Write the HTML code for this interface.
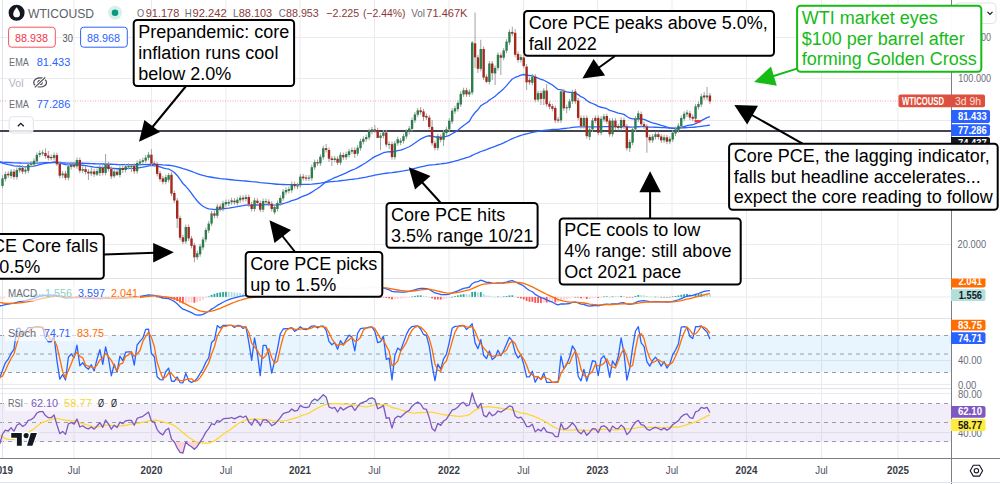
<!DOCTYPE html>
<html><head><meta charset="utf-8"><style>
html,body{margin:0;padding:0;background:#fff;width:1000px;height:484px;overflow:hidden}
svg{display:block;position:absolute;left:0;top:0}
text{font-family:"Liberation Sans", sans-serif}
</style></head><body>
<svg width="1000" height="484" viewBox="0 0 1000 484">
<defs>
<clipPath id="cp"><rect x="0" y="0" width="951" height="278"/></clipPath>
<clipPath id="cpm"><rect x="0" y="279" width="951" height="39"/></clipPath>
<clipPath id="cps"><rect x="0" y="319" width="951" height="69"/></clipPath>
<clipPath id="cpr"><rect x="0" y="389" width="951" height="69"/></clipPath>
</defs>
<line x1="2.5" y1="0" x2="2.5" y2="458" stroke="#ebebee" stroke-width="1"/>
<line x1="74" y1="0" x2="74" y2="458" stroke="#ebebee" stroke-width="1"/>
<line x1="151.5" y1="0" x2="151.5" y2="458" stroke="#ebebee" stroke-width="1"/>
<line x1="226" y1="0" x2="226" y2="458" stroke="#ebebee" stroke-width="1"/>
<line x1="300" y1="0" x2="300" y2="458" stroke="#ebebee" stroke-width="1"/>
<line x1="374.5" y1="0" x2="374.5" y2="458" stroke="#ebebee" stroke-width="1"/>
<line x1="449" y1="0" x2="449" y2="458" stroke="#ebebee" stroke-width="1"/>
<line x1="523.5" y1="0" x2="523.5" y2="458" stroke="#ebebee" stroke-width="1"/>
<line x1="597.5" y1="0" x2="597.5" y2="458" stroke="#ebebee" stroke-width="1"/>
<line x1="672" y1="0" x2="672" y2="458" stroke="#ebebee" stroke-width="1"/>
<line x1="746.5" y1="0" x2="746.5" y2="458" stroke="#ebebee" stroke-width="1"/>
<line x1="821.5" y1="0" x2="821.5" y2="458" stroke="#ebebee" stroke-width="1"/>
<line x1="898" y1="0" x2="898" y2="458" stroke="#ebebee" stroke-width="1"/>
<line x1="0" y1="37.5" x2="951" y2="37.5" stroke="#ebebee" stroke-width="1"/>
<line x1="0" y1="78.5" x2="951" y2="78.5" stroke="#ebebee" stroke-width="1"/>
<line x1="0" y1="120.5" x2="951" y2="120.5" stroke="#ebebee" stroke-width="1"/>
<line x1="0" y1="161.5" x2="951" y2="161.5" stroke="#ebebee" stroke-width="1"/>
<line x1="0" y1="203.5" x2="951" y2="203.5" stroke="#ebebee" stroke-width="1"/>
<line x1="0" y1="244.5" x2="951" y2="244.5" stroke="#ebebee" stroke-width="1"/>
<line x1="0" y1="297" x2="951" y2="297" stroke="#ebebee" stroke-width="1"/>
<line x1="0" y1="360.5" x2="951" y2="360.5" stroke="#ebebee" stroke-width="1"/>
<line x1="0" y1="384.5" x2="951" y2="384.5" stroke="#ebebee" stroke-width="1"/>
<line x1="0" y1="393.5" x2="951" y2="393.5" stroke="#ebebee" stroke-width="1"/>
<line x1="0" y1="432.5" x2="951" y2="432.5" stroke="#ebebee" stroke-width="1"/>
<rect x="0" y="335.21" width="951" height="36.78" fill="#2196f3" fill-opacity="0.1"/>
<rect x="0" y="403.85" width="951" height="38.1" fill="#7e57c2" fill-opacity="0.1"/>
<line x1="0" y1="335.5" x2="951" y2="335.5" stroke="#9a9da5" stroke-width="1" stroke-dasharray="4,4"/>
<line x1="0" y1="354" x2="951" y2="354" stroke="#9a9da5" stroke-width="1" stroke-dasharray="4,4"/>
<line x1="0" y1="372.5" x2="951" y2="372.5" stroke="#9a9da5" stroke-width="1" stroke-dasharray="4,4"/>
<line x1="0" y1="403.5" x2="951" y2="403.5" stroke="#9a9da5" stroke-width="1" stroke-dasharray="4,4"/>
<line x1="0" y1="422.5" x2="951" y2="422.5" stroke="#9a9da5" stroke-width="1" stroke-dasharray="4,4"/>
<line x1="0" y1="441.5" x2="951" y2="441.5" stroke="#9a9da5" stroke-width="1" stroke-dasharray="4,4"/>
<line x1="0" y1="278.5" x2="951" y2="278.5" stroke="#e0e3eb" stroke-width="1"/>
<line x1="0" y1="318.5" x2="951" y2="318.5" stroke="#e0e3eb" stroke-width="1"/>
<line x1="0" y1="388.5" x2="951" y2="388.5" stroke="#e0e3eb" stroke-width="1"/>
<line x1="2.5" y1="0" x2="2.5" y2="458" stroke="#e0e3eb" stroke-width="1"/>
<line x1="0" y1="458.5" x2="1000" y2="458.5" stroke="#7b7e86" stroke-width="1"/>
<line x1="951.5" y1="0" x2="951.5" y2="484" stroke="#7b7e86" stroke-width="1"/>
<line x1="0" y1="482.5" x2="1000" y2="482.5" stroke="#e0e3eb" stroke-width="1"/>
<line x1="0" y1="101" x2="898" y2="101" stroke="#f23645" stroke-opacity="0.45" stroke-width="1" stroke-dasharray="1,1.5"/>
<line x1="0" y1="131" x2="951" y2="131" stroke="#434651" stroke-width="2"/>
<g clip-path="url(#cp)">
<polyline points="-0.36,162.17 2.5,163.22 5.36,163.92 8.23,164.66 11.09,165.1 13.96,165.87 16.82,166.13 19.68,166.25 22.55,166.59 25.41,166.79 28.28,166.64 31.14,166.44 34,166.08 36.87,165.36 39.73,164.56 42.6,163.77 45.46,163.28 48.32,162.94 51.19,162.62 54.05,162.14 56.92,162.27 59.78,163.14 62.64,163.8 65.51,164.71 68.37,164.81 71.24,164.79 74.1,164.91 76.96,164.59 79.83,164.98 82.69,165.25 85.56,165.69 88.42,166.19 91.28,166.53 94.15,167.03 97.01,167.29 99.88,167.3 102.74,167.66 105.6,167.44 108.47,167.54 111.33,168.11 114.2,168.33 117.06,168.76 119.92,168.71 122.79,168.8 125.65,168.64 128.52,168.46 131.38,168.29 134.24,168.47 137.11,168.12 139.97,167.69 142.84,167.21 145.7,166.59 148.56,165.82 151.43,165.68 154.29,165.61 157.16,166.15 160.02,166.98 162.88,167.94 165.75,168.54 168.61,168.96 171.48,170.55 174.34,172.49 177.2,175.46 180.07,179.48 182.93,183.5 185.8,186.3 188.66,189.66 191.52,193.29 194.39,197.42 197.25,201.02 200.12,203.95 202.98,206.24 205.84,207.77 208.71,208.8 211.57,209.09 214.44,209.52 217.3,209.33 220.16,209.3 223.03,208.91 225.89,208.46 228.76,208.05 231.62,207.55 234.48,207.21 237.35,206.72 240.21,206.14 243.08,205.71 245.94,205.14 248.8,205.1 251.67,205.35 254.53,205.02 257.4,204.89 260.26,205.2 263.12,204.93 265.99,204.68 268.85,204.61 271.72,204.9 274.58,205.03 277.44,204.9 280.31,204.46 283.17,203.63 286.04,202.75 288.9,201.86 291.76,200.72 294.63,199.78 297.49,198.84 300.36,197.41 303.22,196.17 306.08,195.03 308.95,193.9 311.81,192.18 314.68,190.24 317.54,188.5 320.4,186.45 323.27,183.98 326.13,181.79 329,180.3 331.86,178.99 334.72,177.66 337.59,176.7 340.45,175.28 343.32,174.12 346.18,172.82 349.04,171.43 351.91,170.05 354.77,169.01 357.64,167.64 360.5,165.93 363.36,164.18 366.23,162.43 369.09,160.41 371.96,158.41 374.82,156.61 377.68,155.41 380.55,154.13 383.41,152.73 386.28,152.21 389.14,151.67 392,152.02 394.87,151.46 397.73,150.67 400.6,150.02 403.46,149.12 406.32,147.99 409.19,146.73 412.05,145.01 414.92,143.03 417.78,140.93 420.64,139.07 423.51,137.64 426.37,136.35 429.24,135.74 432.1,136.22 434.96,136.98 437.83,136.93 440.69,137.11 443.56,136.81 446.42,136.32 449.28,135.31 452.15,133.73 455.01,132.09 457.88,130.2 460.74,127.86 463.6,125.43 466.47,123.43 469.33,121.38 472.2,116.29 475.06,112.49 477.92,109.67 480.79,105.76 483.65,103.94 486.52,102.52 489.38,100 492.24,98.27 495.11,96.31 497.97,93.63 500.84,91.31 503.7,88.67 506.56,85.63 509.43,82.17 512.29,79.04 515.16,77.47 518.02,76.34 520.88,75.09 523.75,74.51 526.61,75.02 529.48,75.49 532.34,75.55 535.2,77.11 538.07,78.14 540.93,79.48 543.8,80.2 546.66,81.75 549.52,83.36 552.39,85 555.25,87.29 558.12,89.43 560.98,89.56 563.84,90.77 566.71,91.83 569.57,92.44 572.44,92.43 575.3,93.01 578.16,94.62 581.03,96.66 583.89,98.03 586.76,100.48 589.62,102.36 592.48,103.52 595.35,104.64 598.21,106.46 601.08,107.25 603.94,107.83 606.8,108.71 609.67,110.36 612.53,111.02 615.4,112.07 618.26,113.1 621.12,113.54 623.99,114.38 626.85,116.56 629.72,118.2 632.58,118.92 635.44,118.9 638.31,118.54 641.17,118.91 644.04,119.4 646.9,120.55 649.76,121.83 652.63,122.78 655.49,123.52 658.36,124.39 661.22,125.42 664.08,126.19 666.95,127.19 669.81,127.94 672.68,128.25 675.54,128.32 678.4,128.15 681.27,127.49 684.13,126.61 687,125.7 689.86,125.17 692.72,124.75 695.59,123.56 698.45,122.3 701.32,120.62 704.18,119.12 707.04,117.6 709.91,116.56" fill="none" stroke="#2962ff" stroke-width="1.3" stroke-linejoin="round" />
<polyline points="-0.36,161.96 2.5,162.18 5.36,162.33 8.23,162.51 11.09,162.63 13.96,162.82 16.82,162.91 19.68,162.98 22.55,163.09 25.41,163.18 28.28,163.2 31.14,163.2 34,163.17 36.87,163.06 39.73,162.93 42.6,162.79 45.46,162.7 48.32,162.64 51.19,162.57 54.05,162.48 56.92,162.5 59.78,162.67 62.64,162.82 65.51,163.01 68.37,163.06 71.24,163.08 74.1,163.12 76.96,163.08 79.83,163.18 82.69,163.26 85.56,163.38 88.42,163.51 91.28,163.62 94.15,163.76 97.01,163.85 99.88,163.9 102.74,164.02 105.6,164.02 108.47,164.09 111.33,164.25 114.2,164.35 117.06,164.49 119.92,164.54 122.79,164.61 125.65,164.63 128.52,164.65 131.38,164.66 134.24,164.75 137.11,164.73 139.97,164.68 142.84,164.63 145.7,164.53 148.56,164.4 151.43,164.39 154.29,164.39 157.16,164.52 160.02,164.71 162.88,164.94 165.75,165.1 168.61,165.24 171.48,165.61 174.34,166.07 177.2,166.77 180.07,167.71 182.93,168.69 185.8,169.46 188.66,170.38 191.52,171.38 194.39,172.51 197.25,173.58 200.12,174.55 202.98,175.41 205.84,176.13 208.71,176.76 211.57,177.24 214.44,177.75 217.3,178.14 220.16,178.54 223.03,178.87 225.89,179.18 228.76,179.48 231.62,179.75 234.48,180.05 237.35,180.31 240.21,180.54 243.08,180.79 245.94,181.01 248.8,181.32 251.67,181.68 254.53,181.93 257.4,182.21 260.26,182.57 263.12,182.82 265.99,183.06 268.85,183.33 271.72,183.67 274.58,183.98 277.44,184.23 280.31,184.42 283.17,184.51 286.04,184.58 288.9,184.64 291.76,184.64 294.63,184.66 297.49,184.66 300.36,184.56 303.22,184.47 306.08,184.39 308.95,184.3 311.81,184.08 314.68,183.78 317.54,183.51 320.4,183.16 323.27,182.7 326.13,182.26 329,181.95 331.86,181.66 334.72,181.35 337.59,181.11 340.45,180.76 343.32,180.45 346.18,180.09 349.04,179.71 351.91,179.32 354.77,178.98 357.64,178.57 360.5,178.08 363.36,177.56 366.23,177.02 369.09,176.41 371.96,175.79 374.82,175.19 377.68,174.69 380.55,174.18 383.41,173.62 386.28,173.24 389.14,172.85 392,172.64 394.87,172.25 397.73,171.82 400.6,171.4 403.46,170.94 406.32,170.41 409.19,169.86 412.05,169.2 414.92,168.47 417.78,167.7 420.64,166.97 423.51,166.31 426.37,165.66 429.24,165.15 432.1,164.86 434.96,164.63 437.83,164.26 440.69,163.93 443.56,163.51 446.42,163.06 449.28,162.5 452.15,161.81 455.01,161.1 457.88,160.33 460.74,159.45 463.6,158.54 466.47,157.69 469.33,156.81 472.2,155.3 475.06,154 477.92,152.87 480.79,151.5 483.65,150.52 486.52,149.61 489.38,148.47 492.24,147.47 495.11,146.42 497.97,145.2 500.84,144.04 503.7,142.8 506.56,141.46 509.43,140.01 512.29,138.6 515.16,137.49 518.02,136.47 520.88,135.41 523.75,134.5 526.61,133.8 529.48,133.12 532.34,132.37 535.2,131.94 538.07,131.42 540.93,130.99 543.8,130.46 546.66,130.11 549.52,129.8 552.39,129.52 555.25,129.4 558.12,129.29 560.98,128.78 563.84,128.51 566.71,128.23 569.57,127.87 572.44,127.4 575.3,127.06 578.16,126.94 581.03,126.93 583.89,126.81 586.76,126.93 589.62,126.97 592.48,126.88 595.35,126.8 598.21,126.88 601.08,126.77 603.94,126.63 606.8,126.56 609.67,126.67 612.53,126.58 615.4,126.59 618.26,126.61 621.12,126.53 623.99,126.52 626.85,126.81 629.72,127.01 632.58,127.04 635.44,126.93 638.31,126.75 641.17,126.72 644.04,126.72 646.9,126.86 649.76,127.04 652.63,127.16 655.49,127.25 658.36,127.38 661.22,127.56 664.08,127.68 666.95,127.87 669.81,128.02 672.68,128.08 675.54,128.09 678.4,128.06 681.27,127.93 684.13,127.74 687,127.54 689.86,127.41 692.72,127.29 695.59,127.01 698.45,126.71 701.32,126.31 704.18,125.92 707.04,125.52 709.91,125.2" fill="none" stroke="#2962ff" stroke-width="1.3" stroke-linejoin="round" />
</g>
<line x1="2.5" y1="175.3" x2="2.5" y2="188.4" stroke="#a0a0a0" stroke-width="1"/>
<line x1="5.36" y1="171.6" x2="5.36" y2="181.5" stroke="#a0a0a0" stroke-width="1"/>
<line x1="8.23" y1="171.2" x2="8.23" y2="177.8" stroke="#a0a0a0" stroke-width="1"/>
<line x1="11.09" y1="169.1" x2="11.09" y2="178.5" stroke="#a0a0a0" stroke-width="1"/>
<line x1="13.96" y1="169.1" x2="13.96" y2="179.4" stroke="#a0a0a0" stroke-width="1"/>
<line x1="16.82" y1="167.5" x2="16.82" y2="179.5" stroke="#a0a0a0" stroke-width="1"/>
<line x1="19.68" y1="165.4" x2="19.68" y2="172.9" stroke="#a0a0a0" stroke-width="1"/>
<line x1="22.55" y1="165.4" x2="22.55" y2="174.1" stroke="#a0a0a0" stroke-width="1"/>
<line x1="25.41" y1="167.2" x2="25.41" y2="174.1" stroke="#a0a0a0" stroke-width="1"/>
<line x1="28.28" y1="162" x2="28.28" y2="173.2" stroke="#a0a0a0" stroke-width="1"/>
<line x1="31.14" y1="161" x2="31.14" y2="167.3" stroke="#a0a0a0" stroke-width="1"/>
<line x1="34" y1="158.3" x2="34" y2="167" stroke="#a0a0a0" stroke-width="1"/>
<line x1="36.87" y1="152.4" x2="36.87" y2="163.8" stroke="#a0a0a0" stroke-width="1"/>
<line x1="39.73" y1="150.5" x2="39.73" y2="157.4" stroke="#a0a0a0" stroke-width="1"/>
<line x1="42.6" y1="149.9" x2="42.6" y2="155.9" stroke="#a0a0a0" stroke-width="1"/>
<line x1="45.46" y1="148.5" x2="45.46" y2="158.6" stroke="#a0a0a0" stroke-width="1"/>
<line x1="48.32" y1="151" x2="48.32" y2="160.5" stroke="#a0a0a0" stroke-width="1"/>
<line x1="51.19" y1="154.5" x2="51.19" y2="160.5" stroke="#a0a0a0" stroke-width="1"/>
<line x1="54.05" y1="152.6" x2="54.05" y2="160.5" stroke="#a0a0a0" stroke-width="1"/>
<line x1="56.92" y1="152.6" x2="56.92" y2="166" stroke="#a0a0a0" stroke-width="1"/>
<line x1="59.78" y1="161.3" x2="59.78" y2="178.2" stroke="#a0a0a0" stroke-width="1"/>
<line x1="62.64" y1="171" x2="62.64" y2="178" stroke="#a0a0a0" stroke-width="1"/>
<line x1="65.51" y1="171" x2="65.51" y2="180" stroke="#a0a0a0" stroke-width="1"/>
<line x1="68.37" y1="163.8" x2="68.37" y2="180.3" stroke="#a0a0a0" stroke-width="1"/>
<line x1="71.24" y1="162" x2="71.24" y2="169.5" stroke="#a0a0a0" stroke-width="1"/>
<line x1="74.1" y1="162" x2="74.1" y2="168" stroke="#a0a0a0" stroke-width="1"/>
<line x1="76.96" y1="157.5" x2="76.96" y2="168.8" stroke="#a0a0a0" stroke-width="1"/>
<line x1="79.83" y1="157.5" x2="79.83" y2="173.2" stroke="#a0a0a0" stroke-width="1"/>
<line x1="82.69" y1="166.6" x2="82.69" y2="173.2" stroke="#a0a0a0" stroke-width="1"/>
<line x1="85.56" y1="166" x2="85.56" y2="174.5" stroke="#a0a0a0" stroke-width="1"/>
<line x1="88.42" y1="169.1" x2="88.42" y2="180" stroke="#a0a0a0" stroke-width="1"/>
<line x1="91.28" y1="167" x2="91.28" y2="176.1" stroke="#a0a0a0" stroke-width="1"/>
<line x1="94.15" y1="169" x2="94.15" y2="176.8" stroke="#a0a0a0" stroke-width="1"/>
<line x1="97.01" y1="168.5" x2="97.01" y2="176" stroke="#a0a0a0" stroke-width="1"/>
<line x1="99.88" y1="164.9" x2="99.88" y2="176" stroke="#a0a0a0" stroke-width="1"/>
<line x1="102.74" y1="165.4" x2="102.74" y2="175.4" stroke="#a0a0a0" stroke-width="1"/>
<line x1="105.6" y1="154" x2="105.6" y2="175.4" stroke="#a0a0a0" stroke-width="1"/>
<line x1="108.47" y1="162" x2="108.47" y2="171.5" stroke="#a0a0a0" stroke-width="1"/>
<line x1="111.33" y1="166.4" x2="111.33" y2="179" stroke="#a0a0a0" stroke-width="1"/>
<line x1="114.2" y1="169" x2="114.2" y2="178" stroke="#a0a0a0" stroke-width="1"/>
<line x1="117.06" y1="169.3" x2="117.06" y2="176" stroke="#a0a0a0" stroke-width="1"/>
<line x1="119.92" y1="165.6" x2="119.92" y2="177.4" stroke="#a0a0a0" stroke-width="1"/>
<line x1="122.79" y1="165.6" x2="122.79" y2="173" stroke="#a0a0a0" stroke-width="1"/>
<line x1="125.65" y1="163.9" x2="125.65" y2="172.5" stroke="#a0a0a0" stroke-width="1"/>
<line x1="128.52" y1="163.3" x2="128.52" y2="169.6" stroke="#a0a0a0" stroke-width="1"/>
<line x1="131.38" y1="164.3" x2="131.38" y2="172" stroke="#a0a0a0" stroke-width="1"/>
<line x1="134.24" y1="163.3" x2="134.24" y2="173.7" stroke="#a0a0a0" stroke-width="1"/>
<line x1="137.11" y1="160.5" x2="137.11" y2="173.7" stroke="#a0a0a0" stroke-width="1"/>
<line x1="139.97" y1="159" x2="139.97" y2="166.1" stroke="#a0a0a0" stroke-width="1"/>
<line x1="142.84" y1="157.7" x2="142.84" y2="164.4" stroke="#a0a0a0" stroke-width="1"/>
<line x1="145.7" y1="155.1" x2="145.7" y2="163.2" stroke="#a0a0a0" stroke-width="1"/>
<line x1="148.56" y1="152" x2="148.56" y2="160.3" stroke="#a0a0a0" stroke-width="1"/>
<line x1="151.43" y1="149.1" x2="151.43" y2="166.1" stroke="#a0a0a0" stroke-width="1"/>
<line x1="154.29" y1="160.8" x2="154.29" y2="167.1" stroke="#a0a0a0" stroke-width="1"/>
<line x1="157.16" y1="162" x2="157.16" y2="176.4" stroke="#a0a0a0" stroke-width="1"/>
<line x1="160.02" y1="170.8" x2="160.02" y2="181.6" stroke="#a0a0a0" stroke-width="1"/>
<line x1="162.88" y1="175.9" x2="162.88" y2="184.4" stroke="#a0a0a0" stroke-width="1"/>
<line x1="165.75" y1="174.7" x2="165.75" y2="184.4" stroke="#a0a0a0" stroke-width="1"/>
<line x1="168.61" y1="173" x2="168.61" y2="182.3" stroke="#a0a0a0" stroke-width="1"/>
<line x1="171.48" y1="172.3" x2="171.48" y2="196.1" stroke="#a0a0a0" stroke-width="1"/>
<line x1="174.34" y1="190.5" x2="174.34" y2="203" stroke="#a0a0a0" stroke-width="1"/>
<line x1="177.2" y1="198" x2="177.2" y2="228" stroke="#a0a0a0" stroke-width="1"/>
<line x1="180.07" y1="215.5" x2="180.07" y2="240.2" stroke="#a0a0a0" stroke-width="1"/>
<line x1="182.93" y1="234.8" x2="182.93" y2="244" stroke="#a0a0a0" stroke-width="1"/>
<line x1="185.8" y1="224.5" x2="185.8" y2="243.9" stroke="#a0a0a0" stroke-width="1"/>
<line x1="188.66" y1="224.5" x2="188.66" y2="240.9" stroke="#a0a0a0" stroke-width="1"/>
<line x1="191.52" y1="235.9" x2="191.52" y2="248.4" stroke="#a0a0a0" stroke-width="1"/>
<line x1="194.39" y1="242.7" x2="194.39" y2="262.3" stroke="#a0a0a0" stroke-width="1"/>
<line x1="197.25" y1="250.7" x2="197.25" y2="260" stroke="#a0a0a0" stroke-width="1"/>
<line x1="200.12" y1="243.9" x2="200.12" y2="256.8" stroke="#a0a0a0" stroke-width="1"/>
<line x1="202.98" y1="237" x2="202.98" y2="250" stroke="#a0a0a0" stroke-width="1"/>
<line x1="205.84" y1="227.5" x2="205.84" y2="242" stroke="#a0a0a0" stroke-width="1"/>
<line x1="208.71" y1="221.1" x2="208.71" y2="233" stroke="#a0a0a0" stroke-width="1"/>
<line x1="211.57" y1="210.9" x2="211.57" y2="226.1" stroke="#a0a0a0" stroke-width="1"/>
<line x1="214.44" y1="210.9" x2="214.44" y2="218.2" stroke="#a0a0a0" stroke-width="1"/>
<line x1="217.3" y1="204.1" x2="217.3" y2="218.2" stroke="#a0a0a0" stroke-width="1"/>
<line x1="220.16" y1="204.1" x2="220.16" y2="211.4" stroke="#a0a0a0" stroke-width="1"/>
<line x1="223.03" y1="200.7" x2="223.03" y2="211.4" stroke="#a0a0a0" stroke-width="1"/>
<line x1="225.89" y1="199.5" x2="225.89" y2="206.8" stroke="#a0a0a0" stroke-width="1"/>
<line x1="228.76" y1="199.5" x2="228.76" y2="206.1" stroke="#a0a0a0" stroke-width="1"/>
<line x1="231.62" y1="197.8" x2="231.62" y2="204.8" stroke="#a0a0a0" stroke-width="1"/>
<line x1="234.48" y1="198.2" x2="234.48" y2="204.8" stroke="#a0a0a0" stroke-width="1"/>
<line x1="237.35" y1="197.2" x2="237.35" y2="205.5" stroke="#a0a0a0" stroke-width="1"/>
<line x1="240.21" y1="195.2" x2="240.21" y2="202.8" stroke="#a0a0a0" stroke-width="1"/>
<line x1="243.08" y1="195.2" x2="243.08" y2="201.9" stroke="#a0a0a0" stroke-width="1"/>
<line x1="245.94" y1="194.5" x2="245.94" y2="201.5" stroke="#a0a0a0" stroke-width="1"/>
<line x1="248.8" y1="194.5" x2="248.8" y2="206.9" stroke="#a0a0a0" stroke-width="1"/>
<line x1="251.67" y1="201.9" x2="251.67" y2="211.5" stroke="#a0a0a0" stroke-width="1"/>
<line x1="254.53" y1="197.8" x2="254.53" y2="211.5" stroke="#a0a0a0" stroke-width="1"/>
<line x1="257.4" y1="198.2" x2="257.4" y2="205.5" stroke="#a0a0a0" stroke-width="1"/>
<line x1="260.26" y1="200.5" x2="260.26" y2="212.2" stroke="#a0a0a0" stroke-width="1"/>
<line x1="263.12" y1="198.5" x2="263.12" y2="212.2" stroke="#a0a0a0" stroke-width="1"/>
<line x1="265.99" y1="198.5" x2="265.99" y2="204.8" stroke="#a0a0a0" stroke-width="1"/>
<line x1="268.85" y1="199.2" x2="268.85" y2="206.2" stroke="#a0a0a0" stroke-width="1"/>
<line x1="271.72" y1="201.2" x2="271.72" y2="211.5" stroke="#a0a0a0" stroke-width="1"/>
<line x1="274.58" y1="204.5" x2="274.58" y2="214.4" stroke="#a0a0a0" stroke-width="1"/>
<line x1="277.44" y1="200.5" x2="277.44" y2="211.5" stroke="#a0a0a0" stroke-width="1"/>
<line x1="280.31" y1="195.5" x2="280.31" y2="205.9" stroke="#a0a0a0" stroke-width="1"/>
<line x1="283.17" y1="189.1" x2="283.17" y2="200.8" stroke="#a0a0a0" stroke-width="1"/>
<line x1="286.04" y1="187.5" x2="286.04" y2="194.8" stroke="#a0a0a0" stroke-width="1"/>
<line x1="288.9" y1="186.5" x2="288.9" y2="193.5" stroke="#a0a0a0" stroke-width="1"/>
<line x1="291.76" y1="181.7" x2="291.76" y2="192.8" stroke="#a0a0a0" stroke-width="1"/>
<line x1="294.63" y1="181.7" x2="294.63" y2="188.7" stroke="#a0a0a0" stroke-width="1"/>
<line x1="297.49" y1="182.7" x2="297.49" y2="189" stroke="#a0a0a0" stroke-width="1"/>
<line x1="300.36" y1="174.1" x2="300.36" y2="187.7" stroke="#a0a0a0" stroke-width="1"/>
<line x1="303.22" y1="174.1" x2="303.22" y2="180.7" stroke="#a0a0a0" stroke-width="1"/>
<line x1="306.08" y1="175" x2="306.08" y2="181" stroke="#a0a0a0" stroke-width="1"/>
<line x1="308.95" y1="175" x2="308.95" y2="181" stroke="#a0a0a0" stroke-width="1"/>
<line x1="311.81" y1="164.7" x2="311.81" y2="180.7" stroke="#a0a0a0" stroke-width="1"/>
<line x1="314.68" y1="159.6" x2="314.68" y2="169.9" stroke="#a0a0a0" stroke-width="1"/>
<line x1="317.54" y1="159.6" x2="317.54" y2="165.9" stroke="#a0a0a0" stroke-width="1"/>
<line x1="320.4" y1="154.2" x2="320.4" y2="165.9" stroke="#a0a0a0" stroke-width="1"/>
<line x1="323.27" y1="145.7" x2="323.27" y2="159.8" stroke="#a0a0a0" stroke-width="1"/>
<line x1="326.13" y1="144" x2="326.13" y2="152.5" stroke="#a0a0a0" stroke-width="1"/>
<line x1="329" y1="147.5" x2="329" y2="162" stroke="#a0a0a0" stroke-width="1"/>
<line x1="331.86" y1="155.9" x2="331.86" y2="166" stroke="#a0a0a0" stroke-width="1"/>
<line x1="334.72" y1="155.9" x2="334.72" y2="162.5" stroke="#a0a0a0" stroke-width="1"/>
<line x1="337.59" y1="156.2" x2="337.59" y2="165" stroke="#a0a0a0" stroke-width="1"/>
<line x1="340.45" y1="152.2" x2="340.45" y2="165.2" stroke="#a0a0a0" stroke-width="1"/>
<line x1="343.32" y1="152.5" x2="343.32" y2="159.8" stroke="#a0a0a0" stroke-width="1"/>
<line x1="346.18" y1="151.5" x2="346.18" y2="159.8" stroke="#a0a0a0" stroke-width="1"/>
<line x1="349.04" y1="148.8" x2="349.04" y2="157.5" stroke="#a0a0a0" stroke-width="1"/>
<line x1="351.91" y1="147.5" x2="351.91" y2="154.2" stroke="#a0a0a0" stroke-width="1"/>
<line x1="354.77" y1="147.5" x2="354.77" y2="158" stroke="#a0a0a0" stroke-width="1"/>
<line x1="357.64" y1="145.2" x2="357.64" y2="156.1" stroke="#a0a0a0" stroke-width="1"/>
<line x1="360.5" y1="138.7" x2="360.5" y2="150.7" stroke="#a0a0a0" stroke-width="1"/>
<line x1="363.36" y1="136.3" x2="363.36" y2="144.4" stroke="#a0a0a0" stroke-width="1"/>
<line x1="366.23" y1="134.5" x2="366.23" y2="141.7" stroke="#a0a0a0" stroke-width="1"/>
<line x1="369.09" y1="128.7" x2="369.09" y2="140" stroke="#a0a0a0" stroke-width="1"/>
<line x1="371.96" y1="126.9" x2="371.96" y2="134.3" stroke="#a0a0a0" stroke-width="1"/>
<line x1="374.82" y1="125" x2="374.82" y2="133" stroke="#a0a0a0" stroke-width="1"/>
<line x1="377.68" y1="127.7" x2="377.68" y2="138" stroke="#a0a0a0" stroke-width="1"/>
<line x1="380.55" y1="133.1" x2="380.55" y2="150" stroke="#a0a0a0" stroke-width="1"/>
<line x1="383.41" y1="130" x2="383.41" y2="138.4" stroke="#a0a0a0" stroke-width="1"/>
<line x1="386.28" y1="130" x2="386.28" y2="147.1" stroke="#a0a0a0" stroke-width="1"/>
<line x1="389.14" y1="141.4" x2="389.14" y2="149" stroke="#a0a0a0" stroke-width="1"/>
<line x1="392" y1="141.7" x2="392" y2="159.6" stroke="#a0a0a0" stroke-width="1"/>
<line x1="394.87" y1="140.8" x2="394.87" y2="159.6" stroke="#a0a0a0" stroke-width="1"/>
<line x1="397.73" y1="136.7" x2="397.73" y2="145.8" stroke="#a0a0a0" stroke-width="1"/>
<line x1="400.6" y1="138.1" x2="400.6" y2="145.1" stroke="#a0a0a0" stroke-width="1"/>
<line x1="403.46" y1="133.6" x2="403.46" y2="143.5" stroke="#a0a0a0" stroke-width="1"/>
<line x1="406.32" y1="129.1" x2="406.32" y2="139" stroke="#a0a0a0" stroke-width="1"/>
<line x1="409.19" y1="126" x2="409.19" y2="134.3" stroke="#a0a0a0" stroke-width="1"/>
<line x1="412.05" y1="117.5" x2="412.05" y2="131.4" stroke="#a0a0a0" stroke-width="1"/>
<line x1="414.92" y1="111.9" x2="414.92" y2="122.9" stroke="#a0a0a0" stroke-width="1"/>
<line x1="417.78" y1="107.9" x2="417.78" y2="117.2" stroke="#a0a0a0" stroke-width="1"/>
<line x1="420.64" y1="107" x2="420.64" y2="114.7" stroke="#a0a0a0" stroke-width="1"/>
<line x1="423.51" y1="108.9" x2="423.51" y2="121" stroke="#a0a0a0" stroke-width="1"/>
<line x1="426.37" y1="113.5" x2="426.37" y2="120.1" stroke="#a0a0a0" stroke-width="1"/>
<line x1="429.24" y1="115.1" x2="429.24" y2="129.4" stroke="#a0a0a0" stroke-width="1"/>
<line x1="432.1" y1="120" x2="432.1" y2="145.7" stroke="#a0a0a0" stroke-width="1"/>
<line x1="434.96" y1="140.7" x2="434.96" y2="150.4" stroke="#a0a0a0" stroke-width="1"/>
<line x1="437.83" y1="133.7" x2="437.83" y2="150.4" stroke="#a0a0a0" stroke-width="1"/>
<line x1="440.69" y1="134.5" x2="440.69" y2="142.3" stroke="#a0a0a0" stroke-width="1"/>
<line x1="443.56" y1="129.9" x2="443.56" y2="146" stroke="#a0a0a0" stroke-width="1"/>
<line x1="446.42" y1="126.8" x2="446.42" y2="135.6" stroke="#a0a0a0" stroke-width="1"/>
<line x1="449.28" y1="118.2" x2="449.28" y2="131.8" stroke="#a0a0a0" stroke-width="1"/>
<line x1="452.15" y1="108.2" x2="452.15" y2="124" stroke="#a0a0a0" stroke-width="1"/>
<line x1="455.01" y1="105.8" x2="455.01" y2="113.9" stroke="#a0a0a0" stroke-width="1"/>
<line x1="457.88" y1="100.4" x2="457.88" y2="111.6" stroke="#a0a0a0" stroke-width="1"/>
<line x1="460.74" y1="91.4" x2="460.74" y2="107" stroke="#a0a0a0" stroke-width="1"/>
<line x1="463.6" y1="87.7" x2="463.6" y2="96.9" stroke="#a0a0a0" stroke-width="1"/>
<line x1="466.47" y1="87.7" x2="466.47" y2="96.9" stroke="#a0a0a0" stroke-width="1"/>
<line x1="469.33" y1="89.2" x2="469.33" y2="96.9" stroke="#a0a0a0" stroke-width="1"/>
<line x1="472.2" y1="41" x2="472.2" y2="95" stroke="#a0a0a0" stroke-width="1"/>
<line x1="475.06" y1="12.6" x2="475.06" y2="67.9" stroke="#a0a0a0" stroke-width="1"/>
<line x1="477.92" y1="54.9" x2="477.92" y2="73" stroke="#a0a0a0" stroke-width="1"/>
<line x1="480.79" y1="39.8" x2="480.79" y2="71.3" stroke="#a0a0a0" stroke-width="1"/>
<line x1="483.65" y1="46.5" x2="483.65" y2="80" stroke="#a0a0a0" stroke-width="1"/>
<line x1="486.52" y1="74.2" x2="486.52" y2="83" stroke="#a0a0a0" stroke-width="1"/>
<line x1="489.38" y1="61" x2="489.38" y2="84.4" stroke="#a0a0a0" stroke-width="1"/>
<line x1="492.24" y1="61" x2="492.24" y2="80" stroke="#a0a0a0" stroke-width="1"/>
<line x1="495.11" y1="65.4" x2="495.11" y2="85" stroke="#a0a0a0" stroke-width="1"/>
<line x1="497.97" y1="52.2" x2="497.97" y2="70.4" stroke="#a0a0a0" stroke-width="1"/>
<line x1="500.84" y1="52.8" x2="500.84" y2="75" stroke="#a0a0a0" stroke-width="1"/>
<line x1="503.7" y1="47.9" x2="503.7" y2="60.2" stroke="#a0a0a0" stroke-width="1"/>
<line x1="506.56" y1="39.1" x2="506.56" y2="53.2" stroke="#a0a0a0" stroke-width="1"/>
<line x1="509.43" y1="29.4" x2="509.43" y2="45" stroke="#a0a0a0" stroke-width="1"/>
<line x1="512.29" y1="26.7" x2="512.29" y2="36.2" stroke="#a0a0a0" stroke-width="1"/>
<line x1="515.16" y1="29" x2="515.16" y2="57.2" stroke="#a0a0a0" stroke-width="1"/>
<line x1="518.02" y1="51.4" x2="518.02" y2="62.5" stroke="#a0a0a0" stroke-width="1"/>
<line x1="520.88" y1="54.5" x2="520.88" y2="62.5" stroke="#a0a0a0" stroke-width="1"/>
<line x1="523.75" y1="54.9" x2="523.75" y2="68.6" stroke="#a0a0a0" stroke-width="1"/>
<line x1="526.61" y1="64.1" x2="526.61" y2="90" stroke="#a0a0a0" stroke-width="1"/>
<line x1="529.48" y1="77.4" x2="529.48" y2="84.8" stroke="#a0a0a0" stroke-width="1"/>
<line x1="532.34" y1="74" x2="532.34" y2="85.3" stroke="#a0a0a0" stroke-width="1"/>
<line x1="535.2" y1="74" x2="535.2" y2="102.2" stroke="#a0a0a0" stroke-width="1"/>
<line x1="538.07" y1="90.6" x2="538.07" y2="102.2" stroke="#a0a0a0" stroke-width="1"/>
<line x1="540.93" y1="90.6" x2="540.93" y2="105" stroke="#a0a0a0" stroke-width="1"/>
<line x1="543.8" y1="88.1" x2="543.8" y2="105" stroke="#a0a0a0" stroke-width="1"/>
<line x1="546.66" y1="84" x2="546.66" y2="106.8" stroke="#a0a0a0" stroke-width="1"/>
<line x1="549.52" y1="101.3" x2="549.52" y2="109.2" stroke="#a0a0a0" stroke-width="1"/>
<line x1="552.39" y1="103.8" x2="552.39" y2="111.3" stroke="#a0a0a0" stroke-width="1"/>
<line x1="555.25" y1="105.5" x2="555.25" y2="123" stroke="#a0a0a0" stroke-width="1"/>
<line x1="558.12" y1="117" x2="558.12" y2="123" stroke="#a0a0a0" stroke-width="1"/>
<line x1="560.98" y1="88.9" x2="560.98" y2="122.9" stroke="#a0a0a0" stroke-width="1"/>
<line x1="563.84" y1="88.9" x2="563.84" y2="110.8" stroke="#a0a0a0" stroke-width="1"/>
<line x1="566.71" y1="104.7" x2="566.71" y2="113" stroke="#a0a0a0" stroke-width="1"/>
<line x1="569.57" y1="98.9" x2="569.57" y2="110.5" stroke="#a0a0a0" stroke-width="1"/>
<line x1="572.44" y1="89.8" x2="572.44" y2="103.9" stroke="#a0a0a0" stroke-width="1"/>
<line x1="575.3" y1="88.9" x2="575.3" y2="103.9" stroke="#a0a0a0" stroke-width="1"/>
<line x1="578.16" y1="98" x2="578.16" y2="120.4" stroke="#a0a0a0" stroke-width="1"/>
<line x1="581.03" y1="115.4" x2="581.03" y2="128.7" stroke="#a0a0a0" stroke-width="1"/>
<line x1="583.89" y1="115.4" x2="583.89" y2="128.7" stroke="#a0a0a0" stroke-width="1"/>
<line x1="586.76" y1="115.4" x2="586.76" y2="138.6" stroke="#a0a0a0" stroke-width="1"/>
<line x1="589.62" y1="127" x2="589.62" y2="140" stroke="#a0a0a0" stroke-width="1"/>
<line x1="592.48" y1="117.9" x2="592.48" y2="132" stroke="#a0a0a0" stroke-width="1"/>
<line x1="595.35" y1="115.4" x2="595.35" y2="123.4" stroke="#a0a0a0" stroke-width="1"/>
<line x1="598.21" y1="115.4" x2="598.21" y2="135.3" stroke="#a0a0a0" stroke-width="1"/>
<line x1="601.08" y1="116.2" x2="601.08" y2="135.3" stroke="#a0a0a0" stroke-width="1"/>
<line x1="603.94" y1="113.8" x2="603.94" y2="122.1" stroke="#a0a0a0" stroke-width="1"/>
<line x1="606.8" y1="113.5" x2="606.8" y2="124" stroke="#a0a0a0" stroke-width="1"/>
<line x1="609.67" y1="118.1" x2="609.67" y2="136.7" stroke="#a0a0a0" stroke-width="1"/>
<line x1="612.53" y1="118.1" x2="612.53" y2="136.7" stroke="#a0a0a0" stroke-width="1"/>
<line x1="615.4" y1="118.1" x2="615.4" y2="129.8" stroke="#a0a0a0" stroke-width="1"/>
<line x1="618.26" y1="123.7" x2="618.26" y2="130.5" stroke="#a0a0a0" stroke-width="1"/>
<line x1="621.12" y1="117.5" x2="621.12" y2="130.5" stroke="#a0a0a0" stroke-width="1"/>
<line x1="623.99" y1="117.5" x2="623.99" y2="129" stroke="#a0a0a0" stroke-width="1"/>
<line x1="626.85" y1="124" x2="626.85" y2="150.7" stroke="#a0a0a0" stroke-width="1"/>
<line x1="629.72" y1="139.5" x2="629.72" y2="152" stroke="#a0a0a0" stroke-width="1"/>
<line x1="632.58" y1="126.8" x2="632.58" y2="145.2" stroke="#a0a0a0" stroke-width="1"/>
<line x1="635.44" y1="116.2" x2="635.44" y2="131.8" stroke="#a0a0a0" stroke-width="1"/>
<line x1="638.31" y1="110.8" x2="638.31" y2="122" stroke="#a0a0a0" stroke-width="1"/>
<line x1="641.17" y1="111.6" x2="641.17" y2="126.7" stroke="#a0a0a0" stroke-width="1"/>
<line x1="644.04" y1="121.7" x2="644.04" y2="129" stroke="#a0a0a0" stroke-width="1"/>
<line x1="646.9" y1="124" x2="646.9" y2="152.8" stroke="#a0a0a0" stroke-width="1"/>
<line x1="649.76" y1="134.5" x2="649.76" y2="142.9" stroke="#a0a0a0" stroke-width="1"/>
<line x1="652.63" y1="134" x2="652.63" y2="142.9" stroke="#a0a0a0" stroke-width="1"/>
<line x1="655.49" y1="131.7" x2="655.49" y2="139.5" stroke="#a0a0a0" stroke-width="1"/>
<line x1="658.36" y1="131.7" x2="658.36" y2="139.5" stroke="#a0a0a0" stroke-width="1"/>
<line x1="661.22" y1="134" x2="661.22" y2="142.9" stroke="#a0a0a0" stroke-width="1"/>
<line x1="664.08" y1="134.8" x2="664.08" y2="142.9" stroke="#a0a0a0" stroke-width="1"/>
<line x1="666.95" y1="134.8" x2="666.95" y2="144.2" stroke="#a0a0a0" stroke-width="1"/>
<line x1="669.81" y1="136.4" x2="669.81" y2="144.2" stroke="#a0a0a0" stroke-width="1"/>
<line x1="672.68" y1="130.2" x2="672.68" y2="142.1" stroke="#a0a0a0" stroke-width="1"/>
<line x1="675.54" y1="126.8" x2="675.54" y2="136" stroke="#a0a0a0" stroke-width="1"/>
<line x1="678.4" y1="123.2" x2="678.4" y2="132.9" stroke="#a0a0a0" stroke-width="1"/>
<line x1="681.27" y1="115.5" x2="681.27" y2="129" stroke="#a0a0a0" stroke-width="1"/>
<line x1="684.13" y1="111.3" x2="684.13" y2="121.2" stroke="#a0a0a0" stroke-width="1"/>
<line x1="687" y1="110" x2="687" y2="116.9" stroke="#a0a0a0" stroke-width="1"/>
<line x1="689.86" y1="110.8" x2="689.86" y2="120" stroke="#a0a0a0" stroke-width="1"/>
<line x1="692.72" y1="114.4" x2="692.72" y2="121.2" stroke="#a0a0a0" stroke-width="1"/>
<line x1="695.59" y1="103.8" x2="695.59" y2="121.2" stroke="#a0a0a0" stroke-width="1"/>
<line x1="698.45" y1="101.5" x2="698.45" y2="109.6" stroke="#a0a0a0" stroke-width="1"/>
<line x1="701.32" y1="93.8" x2="701.32" y2="107" stroke="#a0a0a0" stroke-width="1"/>
<line x1="704.18" y1="92" x2="704.18" y2="99.9" stroke="#a0a0a0" stroke-width="1"/>
<line x1="707.04" y1="87" x2="707.04" y2="99.9" stroke="#a0a0a0" stroke-width="1"/>
<line x1="709.91" y1="93" x2="709.91" y2="103.9" stroke="#a0a0a0" stroke-width="1"/>
<rect x="1.3" y="178.4" width="2.4" height="7.5" fill="#2e7d4f"/>
<rect x="4.16" y="174.1" width="2.4" height="4.9" fill="#2e7d4f"/>
<rect x="7.03" y="173.7" width="2.4" height="1.6" fill="#a3291f"/>
<rect x="9.89" y="171.6" width="2.4" height="4.4" fill="#2e7d4f"/>
<rect x="12.76" y="171.6" width="2.4" height="5.3" fill="#a3291f"/>
<rect x="15.62" y="170" width="2.4" height="7" fill="#2e7d4f"/>
<rect x="18.48" y="167.9" width="2.4" height="2.5" fill="#2e7d4f"/>
<rect x="21.35" y="167.9" width="2.4" height="3.7" fill="#a3291f"/>
<rect x="24.21" y="169.7" width="2.4" height="1.9" fill="#2e7d4f"/>
<rect x="27.08" y="164.5" width="2.4" height="6.2" fill="#2e7d4f"/>
<rect x="29.94" y="163.5" width="2.4" height="1.3" fill="#2e7d4f"/>
<rect x="32.8" y="160.8" width="2.4" height="3.7" fill="#2e7d4f"/>
<rect x="35.67" y="154.9" width="2.4" height="6.4" fill="#2e7d4f"/>
<rect x="38.53" y="153" width="2.4" height="1.9" fill="#2e7d4f"/>
<rect x="41.4" y="152.4" width="2.4" height="1.2" fill="#2e7d4f"/>
<rect x="44.26" y="153" width="2.4" height="3.1" fill="#a3291f"/>
<rect x="47.12" y="155.5" width="2.4" height="2.5" fill="#a3291f"/>
<rect x="49.99" y="157" width="2.4" height="1.2" fill="#a3291f"/>
<rect x="52.85" y="155.1" width="2.4" height="2.9" fill="#2e7d4f"/>
<rect x="55.72" y="155.1" width="2.4" height="9.1" fill="#a3291f"/>
<rect x="58.58" y="163.8" width="2.4" height="11.9" fill="#a3291f"/>
<rect x="61.44" y="173.5" width="2.4" height="1.8" fill="#2e7d4f"/>
<rect x="64.31" y="173.5" width="2.4" height="4.3" fill="#a3291f"/>
<rect x="67.17" y="166.3" width="2.4" height="11.5" fill="#2e7d4f"/>
<rect x="70.04" y="164.5" width="2.4" height="2.5" fill="#2e7d4f"/>
<rect x="72.9" y="164.8" width="2.4" height="1.8" fill="#a3291f"/>
<rect x="75.76" y="160" width="2.4" height="6.3" fill="#2e7d4f"/>
<rect x="78.63" y="160" width="2.4" height="10.7" fill="#a3291f"/>
<rect x="81.49" y="169.1" width="2.4" height="1.6" fill="#2e7d4f"/>
<rect x="84.36" y="169.1" width="2.4" height="2.9" fill="#a3291f"/>
<rect x="87.22" y="171.6" width="2.4" height="1.9" fill="#a3291f"/>
<rect x="90.08" y="171.5" width="2.4" height="2.1" fill="#2e7d4f"/>
<rect x="92.95" y="171.5" width="2.4" height="2.8" fill="#a3291f"/>
<rect x="95.81" y="171" width="2.4" height="3.6" fill="#2e7d4f"/>
<rect x="98.68" y="167.4" width="2.4" height="5.7" fill="#2e7d4f"/>
<rect x="101.54" y="167.9" width="2.4" height="5" fill="#a3291f"/>
<rect x="104.4" y="164.3" width="2.4" height="8.6" fill="#2e7d4f"/>
<rect x="107.27" y="164.6" width="2.4" height="4.4" fill="#a3291f"/>
<rect x="110.13" y="168.9" width="2.4" height="7.5" fill="#a3291f"/>
<rect x="113" y="171.5" width="2.4" height="4.7" fill="#2e7d4f"/>
<rect x="115.86" y="171.8" width="2.4" height="3.1" fill="#a3291f"/>
<rect x="118.72" y="168.1" width="2.4" height="6.8" fill="#2e7d4f"/>
<rect x="121.59" y="168.1" width="2.4" height="1.9" fill="#a3291f"/>
<rect x="124.45" y="166.4" width="2.4" height="3.6" fill="#2e7d4f"/>
<rect x="127.32" y="165.8" width="2.4" height="1.3" fill="#2e7d4f"/>
<rect x="130.18" y="165.8" width="2.4" height="1.2" fill="#2e7d4f"/>
<rect x="133.04" y="165.8" width="2.4" height="5.4" fill="#a3291f"/>
<rect x="135.91" y="163" width="2.4" height="8.2" fill="#2e7d4f"/>
<rect x="138.77" y="161.5" width="2.4" height="2.1" fill="#2e7d4f"/>
<rect x="141.64" y="160.2" width="2.4" height="1.7" fill="#2e7d4f"/>
<rect x="144.5" y="157.6" width="2.4" height="3.1" fill="#2e7d4f"/>
<rect x="147.36" y="154.7" width="2.4" height="3.1" fill="#2e7d4f"/>
<rect x="150.23" y="154.7" width="2.4" height="8.9" fill="#a3291f"/>
<rect x="153.09" y="163.3" width="2.4" height="1.3" fill="#a3291f"/>
<rect x="155.96" y="164" width="2.4" height="9.9" fill="#a3291f"/>
<rect x="158.82" y="173.3" width="2.4" height="5.8" fill="#a3291f"/>
<rect x="161.68" y="178.4" width="2.4" height="3.5" fill="#a3291f"/>
<rect x="164.55" y="177.2" width="2.4" height="4.7" fill="#2e7d4f"/>
<rect x="167.41" y="175.1" width="2.4" height="4.7" fill="#2e7d4f"/>
<rect x="170.28" y="174.8" width="2.4" height="18.8" fill="#a3291f"/>
<rect x="173.14" y="193" width="2.4" height="7.5" fill="#a3291f"/>
<rect x="176" y="200.5" width="2.4" height="18.1" fill="#a3291f"/>
<rect x="178.87" y="218" width="2.4" height="19.7" fill="#a3291f"/>
<rect x="181.73" y="237.3" width="2.4" height="4.5" fill="#a3291f"/>
<rect x="184.6" y="227" width="2.4" height="14.4" fill="#2e7d4f"/>
<rect x="187.46" y="227" width="2.4" height="11.4" fill="#a3291f"/>
<rect x="190.32" y="238.4" width="2.4" height="7.5" fill="#a3291f"/>
<rect x="193.19" y="245.2" width="2.4" height="12.1" fill="#a3291f"/>
<rect x="196.05" y="253.2" width="2.4" height="4.1" fill="#2e7d4f"/>
<rect x="198.92" y="246.4" width="2.4" height="7.9" fill="#2e7d4f"/>
<rect x="201.78" y="239.5" width="2.4" height="8" fill="#2e7d4f"/>
<rect x="204.64" y="230" width="2.4" height="9.5" fill="#2e7d4f"/>
<rect x="207.51" y="223.6" width="2.4" height="6.9" fill="#2e7d4f"/>
<rect x="210.37" y="213.4" width="2.4" height="10.2" fill="#2e7d4f"/>
<rect x="213.24" y="213.4" width="2.4" height="2.3" fill="#a3291f"/>
<rect x="216.1" y="206.6" width="2.4" height="9.1" fill="#2e7d4f"/>
<rect x="218.96" y="206.6" width="2.4" height="2.3" fill="#a3291f"/>
<rect x="221.83" y="203.2" width="2.4" height="5.7" fill="#2e7d4f"/>
<rect x="224.69" y="202" width="2.4" height="2.3" fill="#2e7d4f"/>
<rect x="227.56" y="202" width="2.4" height="1.6" fill="#2e7d4f"/>
<rect x="230.42" y="200.3" width="2.4" height="2" fill="#2e7d4f"/>
<rect x="233.28" y="200.7" width="2.4" height="1.6" fill="#a3291f"/>
<rect x="236.15" y="199.7" width="2.4" height="3.3" fill="#2e7d4f"/>
<rect x="239.01" y="197.7" width="2.4" height="2.6" fill="#2e7d4f"/>
<rect x="241.88" y="197.7" width="2.4" height="1.7" fill="#a3291f"/>
<rect x="244.74" y="197" width="2.4" height="2" fill="#2e7d4f"/>
<rect x="247.6" y="197" width="2.4" height="7.4" fill="#a3291f"/>
<rect x="250.47" y="204.4" width="2.4" height="4.6" fill="#a3291f"/>
<rect x="253.33" y="200.3" width="2.4" height="8.7" fill="#2e7d4f"/>
<rect x="256.2" y="200.7" width="2.4" height="2.3" fill="#a3291f"/>
<rect x="259.06" y="203" width="2.4" height="6.7" fill="#a3291f"/>
<rect x="261.92" y="201" width="2.4" height="8.7" fill="#2e7d4f"/>
<rect x="264.79" y="201" width="2.4" height="1.3" fill="#2e7d4f"/>
<rect x="267.65" y="201.7" width="2.4" height="2" fill="#a3291f"/>
<rect x="270.52" y="203.7" width="2.4" height="5.3" fill="#a3291f"/>
<rect x="273.38" y="207" width="2.4" height="5.4" fill="#2e7d4f"/>
<rect x="276.24" y="203" width="2.4" height="6" fill="#2e7d4f"/>
<rect x="279.11" y="198" width="2.4" height="5.4" fill="#2e7d4f"/>
<rect x="281.97" y="191.6" width="2.4" height="6.7" fill="#2e7d4f"/>
<rect x="284.84" y="190" width="2.4" height="2.3" fill="#2e7d4f"/>
<rect x="287.7" y="189" width="2.4" height="2" fill="#2e7d4f"/>
<rect x="290.56" y="184.2" width="2.4" height="6.1" fill="#2e7d4f"/>
<rect x="293.43" y="184.2" width="2.4" height="2" fill="#a3291f"/>
<rect x="296.29" y="185.2" width="2.4" height="1.3" fill="#2e7d4f"/>
<rect x="299.16" y="176.6" width="2.4" height="8.6" fill="#2e7d4f"/>
<rect x="302.02" y="176.6" width="2.4" height="1.6" fill="#a3291f"/>
<rect x="304.88" y="177.5" width="2.4" height="1.2" fill="#a3291f"/>
<rect x="307.75" y="177.5" width="2.4" height="1.2" fill="#2e7d4f"/>
<rect x="310.61" y="167.2" width="2.4" height="11" fill="#2e7d4f"/>
<rect x="313.48" y="162.1" width="2.4" height="5.3" fill="#2e7d4f"/>
<rect x="316.34" y="162.1" width="2.4" height="1.3" fill="#a3291f"/>
<rect x="319.2" y="156.7" width="2.4" height="6.7" fill="#2e7d4f"/>
<rect x="322.07" y="148.2" width="2.4" height="9.1" fill="#2e7d4f"/>
<rect x="324.93" y="148.2" width="2.4" height="1.8" fill="#a3291f"/>
<rect x="327.8" y="150" width="2.4" height="8.7" fill="#a3291f"/>
<rect x="330.66" y="158.4" width="2.4" height="1.6" fill="#a3291f"/>
<rect x="333.52" y="158.4" width="2.4" height="1.6" fill="#2e7d4f"/>
<rect x="336.39" y="158.7" width="2.4" height="4" fill="#a3291f"/>
<rect x="339.25" y="154.7" width="2.4" height="8" fill="#2e7d4f"/>
<rect x="342.12" y="155" width="2.4" height="2.3" fill="#a3291f"/>
<rect x="344.98" y="154" width="2.4" height="3.3" fill="#2e7d4f"/>
<rect x="347.84" y="151.3" width="2.4" height="3.7" fill="#2e7d4f"/>
<rect x="350.71" y="150" width="2.4" height="1.7" fill="#2e7d4f"/>
<rect x="353.57" y="150" width="2.4" height="4" fill="#a3291f"/>
<rect x="356.44" y="147.7" width="2.4" height="5.9" fill="#2e7d4f"/>
<rect x="359.3" y="141.2" width="2.4" height="7" fill="#2e7d4f"/>
<rect x="362.16" y="138.8" width="2.4" height="3.1" fill="#2e7d4f"/>
<rect x="365.03" y="137" width="2.4" height="2.2" fill="#2e7d4f"/>
<rect x="367.89" y="131.2" width="2.4" height="6.3" fill="#2e7d4f"/>
<rect x="370.76" y="129.4" width="2.4" height="2.4" fill="#2e7d4f"/>
<rect x="373.62" y="129.4" width="2.4" height="1.2" fill="#a3291f"/>
<rect x="376.48" y="130.2" width="2.4" height="7.7" fill="#a3291f"/>
<rect x="379.35" y="135.6" width="2.4" height="2.3" fill="#2e7d4f"/>
<rect x="382.21" y="132.5" width="2.4" height="3.4" fill="#2e7d4f"/>
<rect x="385.08" y="132.5" width="2.4" height="12.1" fill="#a3291f"/>
<rect x="387.94" y="143.9" width="2.4" height="1.2" fill="#2e7d4f"/>
<rect x="390.8" y="144.2" width="2.4" height="12.9" fill="#a3291f"/>
<rect x="393.67" y="143.3" width="2.4" height="13.8" fill="#2e7d4f"/>
<rect x="396.53" y="139.2" width="2.4" height="4.1" fill="#2e7d4f"/>
<rect x="399.4" y="140.6" width="2.4" height="2" fill="#2e7d4f"/>
<rect x="402.26" y="136.1" width="2.4" height="4.9" fill="#2e7d4f"/>
<rect x="405.12" y="131.6" width="2.4" height="4.9" fill="#2e7d4f"/>
<rect x="407.99" y="128.5" width="2.4" height="3.3" fill="#2e7d4f"/>
<rect x="410.85" y="120" width="2.4" height="8.9" fill="#2e7d4f"/>
<rect x="413.72" y="114.4" width="2.4" height="6" fill="#2e7d4f"/>
<rect x="416.58" y="110.4" width="2.4" height="4.3" fill="#2e7d4f"/>
<rect x="419.44" y="110.3" width="2.4" height="1.9" fill="#a3291f"/>
<rect x="422.31" y="111.4" width="2.4" height="5.5" fill="#a3291f"/>
<rect x="425.17" y="116" width="2.4" height="1.6" fill="#a3291f"/>
<rect x="428.04" y="117.6" width="2.4" height="9.3" fill="#a3291f"/>
<rect x="430.9" y="126.9" width="2.4" height="16.3" fill="#a3291f"/>
<rect x="433.76" y="143.2" width="2.4" height="4.7" fill="#a3291f"/>
<rect x="436.63" y="136.2" width="2.4" height="11.7" fill="#2e7d4f"/>
<rect x="439.49" y="137" width="2.4" height="2.8" fill="#a3291f"/>
<rect x="442.36" y="132.4" width="2.4" height="7.4" fill="#2e7d4f"/>
<rect x="445.22" y="129.3" width="2.4" height="3.8" fill="#2e7d4f"/>
<rect x="448.08" y="120.7" width="2.4" height="8.6" fill="#2e7d4f"/>
<rect x="450.95" y="110.7" width="2.4" height="10.8" fill="#2e7d4f"/>
<rect x="453.81" y="108.3" width="2.4" height="3.1" fill="#2e7d4f"/>
<rect x="456.68" y="102.9" width="2.4" height="6.2" fill="#2e7d4f"/>
<rect x="459.54" y="93.9" width="2.4" height="10.6" fill="#2e7d4f"/>
<rect x="462.4" y="90.2" width="2.4" height="4.2" fill="#2e7d4f"/>
<rect x="465.27" y="90.2" width="2.4" height="4.2" fill="#a3291f"/>
<rect x="468.13" y="91.7" width="2.4" height="2.7" fill="#2e7d4f"/>
<rect x="471" y="42.5" width="2.4" height="50" fill="#2e7d4f"/>
<rect x="473.86" y="43.3" width="2.4" height="14.1" fill="#a3291f"/>
<rect x="476.72" y="57.4" width="2.4" height="11.4" fill="#a3291f"/>
<rect x="479.59" y="49" width="2.4" height="19.8" fill="#2e7d4f"/>
<rect x="482.45" y="49" width="2.4" height="28.5" fill="#a3291f"/>
<rect x="485.32" y="76.7" width="2.4" height="5.2" fill="#a3291f"/>
<rect x="488.18" y="63.5" width="2.4" height="18.4" fill="#2e7d4f"/>
<rect x="491.04" y="63.5" width="2.4" height="9.7" fill="#a3291f"/>
<rect x="493.91" y="67.9" width="2.4" height="5.6" fill="#2e7d4f"/>
<rect x="496.77" y="54.7" width="2.4" height="13.2" fill="#2e7d4f"/>
<rect x="499.64" y="55.3" width="2.4" height="2.4" fill="#a3291f"/>
<rect x="502.5" y="50.4" width="2.4" height="7.3" fill="#2e7d4f"/>
<rect x="505.36" y="41.6" width="2.4" height="9.1" fill="#2e7d4f"/>
<rect x="508.23" y="31.9" width="2.4" height="10.6" fill="#2e7d4f"/>
<rect x="511.09" y="31.9" width="2.4" height="1.8" fill="#a3291f"/>
<rect x="513.96" y="32.8" width="2.4" height="21.9" fill="#a3291f"/>
<rect x="516.82" y="53.9" width="2.4" height="6.1" fill="#a3291f"/>
<rect x="519.68" y="57" width="2.4" height="3" fill="#2e7d4f"/>
<rect x="522.55" y="57.4" width="2.4" height="8.7" fill="#a3291f"/>
<rect x="525.41" y="66.6" width="2.4" height="15.7" fill="#a3291f"/>
<rect x="528.28" y="79.9" width="2.4" height="2.4" fill="#a3291f"/>
<rect x="531.14" y="76.5" width="2.4" height="6.3" fill="#2e7d4f"/>
<rect x="534" y="76.5" width="2.4" height="23.2" fill="#a3291f"/>
<rect x="536.87" y="93.1" width="2.4" height="6.6" fill="#2e7d4f"/>
<rect x="539.73" y="93.1" width="2.4" height="5.8" fill="#a3291f"/>
<rect x="542.6" y="90.6" width="2.4" height="8.3" fill="#2e7d4f"/>
<rect x="545.46" y="90.6" width="2.4" height="13.7" fill="#a3291f"/>
<rect x="548.32" y="103.8" width="2.4" height="2.9" fill="#a3291f"/>
<rect x="551.19" y="106.3" width="2.4" height="2.5" fill="#a3291f"/>
<rect x="554.05" y="108" width="2.4" height="12.4" fill="#a3291f"/>
<rect x="556.92" y="119.5" width="2.4" height="1.2" fill="#a3291f"/>
<rect x="559.78" y="91.4" width="2.4" height="29" fill="#2e7d4f"/>
<rect x="562.64" y="91.4" width="2.4" height="16.9" fill="#a3291f"/>
<rect x="565.51" y="107.2" width="2.4" height="1.2" fill="#2e7d4f"/>
<rect x="568.37" y="101.4" width="2.4" height="6.6" fill="#2e7d4f"/>
<rect x="571.24" y="92.3" width="2.4" height="9.1" fill="#2e7d4f"/>
<rect x="574.1" y="91.4" width="2.4" height="10" fill="#a3291f"/>
<rect x="576.96" y="100.5" width="2.4" height="17.4" fill="#a3291f"/>
<rect x="579.83" y="117.9" width="2.4" height="8.3" fill="#a3291f"/>
<rect x="582.69" y="117.9" width="2.4" height="8.3" fill="#2e7d4f"/>
<rect x="585.56" y="117.9" width="2.4" height="18.2" fill="#a3291f"/>
<rect x="588.42" y="129.5" width="2.4" height="7.4" fill="#2e7d4f"/>
<rect x="591.28" y="120.4" width="2.4" height="9.1" fill="#2e7d4f"/>
<rect x="594.15" y="117.9" width="2.4" height="3" fill="#a3291f"/>
<rect x="597.01" y="117.9" width="2.4" height="14.9" fill="#a3291f"/>
<rect x="599.88" y="118.7" width="2.4" height="14.1" fill="#2e7d4f"/>
<rect x="602.74" y="116.3" width="2.4" height="3.3" fill="#2e7d4f"/>
<rect x="605.6" y="116" width="2.4" height="5.5" fill="#a3291f"/>
<rect x="608.47" y="120.6" width="2.4" height="13.6" fill="#a3291f"/>
<rect x="611.33" y="120.6" width="2.4" height="13.6" fill="#2e7d4f"/>
<rect x="614.2" y="120.6" width="2.4" height="6.7" fill="#a3291f"/>
<rect x="617.06" y="126.2" width="2.4" height="1.8" fill="#a3291f"/>
<rect x="619.92" y="120" width="2.4" height="8" fill="#2e7d4f"/>
<rect x="622.79" y="120" width="2.4" height="6.5" fill="#a3291f"/>
<rect x="625.65" y="126.5" width="2.4" height="21.7" fill="#a3291f"/>
<rect x="628.52" y="142" width="2.4" height="6.2" fill="#2e7d4f"/>
<rect x="631.38" y="129.3" width="2.4" height="13.4" fill="#2e7d4f"/>
<rect x="634.24" y="118.7" width="2.4" height="10.6" fill="#2e7d4f"/>
<rect x="637.11" y="113.3" width="2.4" height="6.2" fill="#2e7d4f"/>
<rect x="639.97" y="114.1" width="2.4" height="10.1" fill="#a3291f"/>
<rect x="642.84" y="124.2" width="2.4" height="2.3" fill="#a3291f"/>
<rect x="645.7" y="126.5" width="2.4" height="10.8" fill="#a3291f"/>
<rect x="648.56" y="137" width="2.4" height="3.4" fill="#a3291f"/>
<rect x="651.43" y="136.5" width="2.4" height="3.9" fill="#2e7d4f"/>
<rect x="654.29" y="134.2" width="2.4" height="2.8" fill="#2e7d4f"/>
<rect x="657.16" y="134.2" width="2.4" height="2.8" fill="#a3291f"/>
<rect x="660.02" y="136.5" width="2.4" height="3.9" fill="#a3291f"/>
<rect x="662.88" y="137.3" width="2.4" height="3.1" fill="#2e7d4f"/>
<rect x="665.75" y="137.3" width="2.4" height="4.4" fill="#a3291f"/>
<rect x="668.61" y="138.9" width="2.4" height="2.8" fill="#2e7d4f"/>
<rect x="671.48" y="132.7" width="2.4" height="6.9" fill="#2e7d4f"/>
<rect x="674.34" y="129.3" width="2.4" height="4.2" fill="#2e7d4f"/>
<rect x="677.2" y="125.7" width="2.4" height="4.7" fill="#2e7d4f"/>
<rect x="680.07" y="118" width="2.4" height="8.5" fill="#2e7d4f"/>
<rect x="682.93" y="113.8" width="2.4" height="4.9" fill="#2e7d4f"/>
<rect x="685.8" y="112.5" width="2.4" height="1.9" fill="#2e7d4f"/>
<rect x="688.66" y="113.3" width="2.4" height="4.2" fill="#a3291f"/>
<rect x="691.52" y="116.9" width="2.4" height="1.8" fill="#a3291f"/>
<rect x="694.39" y="106.3" width="2.4" height="12.4" fill="#2e7d4f"/>
<rect x="697.25" y="104" width="2.4" height="3.1" fill="#2e7d4f"/>
<rect x="700.12" y="96.3" width="2.4" height="8.2" fill="#2e7d4f"/>
<rect x="702.98" y="95.5" width="2.4" height="1.9" fill="#a3291f"/>
<rect x="705.84" y="95.5" width="2.4" height="1.9" fill="#2e7d4f"/>
<rect x="708.71" y="95.5" width="2.4" height="5.9" fill="#a3291f"/>
<line x1="694.5" y1="121.2" x2="701.2" y2="121.2" stroke="#f23645" stroke-width="2.5"/>
<g clip-path="url(#cpm)">
<rect x="-1.26" y="296.9" width="1.8" height="3.42" fill="#ffcdd2"/>
<rect x="1.6" y="296.9" width="1.8" height="2.43" fill="#ffcdd2"/>
<rect x="4.46" y="296.9" width="1.8" height="1.39" fill="#ffcdd2"/>
<rect x="7.33" y="296.9" width="1.8" height="0.68" fill="#ffcdd2"/>
<rect x="10.19" y="296.84" width="1.8" height="0.6" fill="#26a69a"/>
<rect x="13.06" y="296.6" width="1.8" height="0.6" fill="#26a69a"/>
<rect x="15.92" y="296.04" width="1.8" height="0.86" fill="#26a69a"/>
<rect x="18.78" y="295.57" width="1.8" height="1.33" fill="#26a69a"/>
<rect x="21.65" y="295.48" width="1.8" height="1.42" fill="#26a69a"/>
<rect x="24.51" y="295.35" width="1.8" height="1.55" fill="#26a69a"/>
<rect x="27.38" y="295.03" width="1.8" height="1.87" fill="#26a69a"/>
<rect x="30.24" y="294.83" width="1.8" height="2.07" fill="#26a69a"/>
<rect x="33.1" y="294.63" width="1.8" height="2.27" fill="#26a69a"/>
<rect x="35.97" y="294.28" width="1.8" height="2.62" fill="#26a69a"/>
<rect x="38.83" y="294.07" width="1.8" height="2.83" fill="#26a69a"/>
<rect x="41.7" y="294.03" width="1.8" height="2.87" fill="#26a69a"/>
<rect x="44.56" y="294.34" width="1.8" height="2.56" fill="#b2dfdb"/>
<rect x="47.42" y="294.76" width="1.8" height="2.14" fill="#b2dfdb"/>
<rect x="50.29" y="295.13" width="1.8" height="1.77" fill="#b2dfdb"/>
<rect x="53.15" y="295.3" width="1.8" height="1.6" fill="#b2dfdb"/>
<rect x="56.02" y="295.98" width="1.8" height="0.92" fill="#b2dfdb"/>
<rect x="58.88" y="296.9" width="1.8" height="0.6" fill="#ff5252"/>
<rect x="61.74" y="296.9" width="1.8" height="0.73" fill="#ff5252"/>
<rect x="64.61" y="296.9" width="1.8" height="1.27" fill="#ff5252"/>
<rect x="67.47" y="296.9" width="1.8" height="0.94" fill="#ffcdd2"/>
<rect x="70.34" y="296.9" width="1.8" height="0.6" fill="#ffcdd2"/>
<rect x="73.2" y="296.9" width="1.8" height="0.6" fill="#ffcdd2"/>
<rect x="76.06" y="296.88" width="1.8" height="0.6" fill="#26a69a"/>
<rect x="78.93" y="296.9" width="1.8" height="0.6" fill="#ff5252"/>
<rect x="81.79" y="296.9" width="1.8" height="0.6" fill="#ff5252"/>
<rect x="84.66" y="296.9" width="1.8" height="0.6" fill="#ff5252"/>
<rect x="87.52" y="296.9" width="1.8" height="0.65" fill="#ff5252"/>
<rect x="90.38" y="296.9" width="1.8" height="0.6" fill="#ffcdd2"/>
<rect x="93.25" y="296.9" width="1.8" height="0.68" fill="#ff5252"/>
<rect x="96.11" y="296.9" width="1.8" height="0.6" fill="#ffcdd2"/>
<rect x="98.98" y="296.9" width="1.8" height="0.6" fill="#ffcdd2"/>
<rect x="101.84" y="296.9" width="1.8" height="0.6" fill="#ff5252"/>
<rect x="104.7" y="296.69" width="1.8" height="0.6" fill="#26a69a"/>
<rect x="107.57" y="296.66" width="1.8" height="0.6" fill="#26a69a"/>
<rect x="110.43" y="296.9" width="1.8" height="0.6" fill="#ff5252"/>
<rect x="113.3" y="296.9" width="1.8" height="0.6" fill="#ffcdd2"/>
<rect x="116.16" y="296.9" width="1.8" height="0.6" fill="#ff5252"/>
<rect x="119.02" y="296.83" width="1.8" height="0.6" fill="#26a69a"/>
<rect x="121.89" y="296.73" width="1.8" height="0.6" fill="#26a69a"/>
<rect x="124.75" y="296.48" width="1.8" height="0.6" fill="#26a69a"/>
<rect x="127.62" y="296.3" width="1.8" height="0.6" fill="#26a69a"/>
<rect x="130.48" y="296.21" width="1.8" height="0.69" fill="#26a69a"/>
<rect x="133.34" y="296.47" width="1.8" height="0.6" fill="#b2dfdb"/>
<rect x="136.21" y="296.21" width="1.8" height="0.69" fill="#26a69a"/>
<rect x="139.07" y="296" width="1.8" height="0.9" fill="#26a69a"/>
<rect x="141.94" y="295.85" width="1.8" height="1.05" fill="#26a69a"/>
<rect x="144.8" y="295.66" width="1.8" height="1.24" fill="#26a69a"/>
<rect x="147.66" y="295.46" width="1.8" height="1.44" fill="#26a69a"/>
<rect x="150.53" y="295.89" width="1.8" height="1.01" fill="#b2dfdb"/>
<rect x="153.39" y="296.27" width="1.8" height="0.63" fill="#b2dfdb"/>
<rect x="156.26" y="296.9" width="1.8" height="0.6" fill="#ff5252"/>
<rect x="159.12" y="296.9" width="1.8" height="0.9" fill="#ff5252"/>
<rect x="161.98" y="296.9" width="1.8" height="1.49" fill="#ff5252"/>
<rect x="164.85" y="296.9" width="1.8" height="1.53" fill="#ff5252"/>
<rect x="167.71" y="296.9" width="1.8" height="1.36" fill="#ffcdd2"/>
<rect x="170.58" y="296.9" width="1.8" height="2.16" fill="#ff5252"/>
<rect x="173.44" y="296.9" width="1.8" height="2.91" fill="#ff5252"/>
<rect x="176.3" y="296.9" width="1.8" height="4.17" fill="#ff5252"/>
<rect x="179.17" y="296.9" width="1.8" height="5.72" fill="#ff5252"/>
<rect x="182.03" y="296.9" width="1.8" height="6.58" fill="#ff5252"/>
<rect x="184.9" y="296.9" width="1.8" height="5.93" fill="#ffcdd2"/>
<rect x="187.76" y="296.9" width="1.8" height="5.75" fill="#ffcdd2"/>
<rect x="190.62" y="296.9" width="1.8" height="5.66" fill="#ffcdd2"/>
<rect x="193.49" y="296.9" width="1.8" height="5.81" fill="#ff5252"/>
<rect x="196.35" y="296.9" width="1.8" height="5.28" fill="#ffcdd2"/>
<rect x="199.22" y="296.9" width="1.8" height="4.2" fill="#ffcdd2"/>
<rect x="202.08" y="296.9" width="1.8" height="2.8" fill="#ffcdd2"/>
<rect x="204.94" y="296.9" width="1.8" height="1.15" fill="#ffcdd2"/>
<rect x="207.81" y="296.48" width="1.8" height="0.6" fill="#26a69a"/>
<rect x="210.67" y="294.84" width="1.8" height="2.06" fill="#26a69a"/>
<rect x="213.54" y="293.91" width="1.8" height="2.99" fill="#26a69a"/>
<rect x="216.4" y="292.88" width="1.8" height="4.02" fill="#26a69a"/>
<rect x="219.26" y="292.45" width="1.8" height="4.45" fill="#26a69a"/>
<rect x="222.13" y="292.01" width="1.8" height="4.89" fill="#26a69a"/>
<rect x="224.99" y="291.84" width="1.8" height="5.06" fill="#26a69a"/>
<rect x="227.86" y="291.91" width="1.8" height="4.99" fill="#b2dfdb"/>
<rect x="230.72" y="292.06" width="1.8" height="4.84" fill="#b2dfdb"/>
<rect x="233.58" y="292.45" width="1.8" height="4.45" fill="#b2dfdb"/>
<rect x="236.45" y="292.75" width="1.8" height="4.15" fill="#b2dfdb"/>
<rect x="239.31" y="293" width="1.8" height="3.9" fill="#b2dfdb"/>
<rect x="242.18" y="293.43" width="1.8" height="3.47" fill="#b2dfdb"/>
<rect x="245.04" y="293.72" width="1.8" height="3.18" fill="#b2dfdb"/>
<rect x="247.9" y="294.45" width="1.8" height="2.45" fill="#b2dfdb"/>
<rect x="250.77" y="295.27" width="1.8" height="1.63" fill="#b2dfdb"/>
<rect x="253.63" y="295.41" width="1.8" height="1.49" fill="#b2dfdb"/>
<rect x="256.5" y="295.71" width="1.8" height="1.19" fill="#b2dfdb"/>
<rect x="259.36" y="296.31" width="1.8" height="0.6" fill="#b2dfdb"/>
<rect x="262.22" y="296.26" width="1.8" height="0.64" fill="#26a69a"/>
<rect x="265.09" y="296.27" width="1.8" height="0.63" fill="#b2dfdb"/>
<rect x="267.95" y="296.45" width="1.8" height="0.6" fill="#b2dfdb"/>
<rect x="270.82" y="296.88" width="1.8" height="0.6" fill="#b2dfdb"/>
<rect x="273.68" y="296.9" width="1.8" height="0.6" fill="#ff5252"/>
<rect x="276.54" y="296.9" width="1.8" height="0.6" fill="#ffcdd2"/>
<rect x="279.41" y="296.6" width="1.8" height="0.6" fill="#26a69a"/>
<rect x="282.27" y="296.08" width="1.8" height="0.82" fill="#26a69a"/>
<rect x="285.14" y="295.72" width="1.8" height="1.18" fill="#26a69a"/>
<rect x="288" y="295.51" width="1.8" height="1.39" fill="#26a69a"/>
<rect x="290.86" y="295.21" width="1.8" height="1.69" fill="#26a69a"/>
<rect x="293.73" y="295.24" width="1.8" height="1.66" fill="#b2dfdb"/>
<rect x="296.59" y="295.31" width="1.8" height="1.59" fill="#b2dfdb"/>
<rect x="299.46" y="295" width="1.8" height="1.9" fill="#26a69a"/>
<rect x="302.32" y="295.03" width="1.8" height="1.87" fill="#b2dfdb"/>
<rect x="305.18" y="295.19" width="1.8" height="1.71" fill="#b2dfdb"/>
<rect x="308.05" y="295.36" width="1.8" height="1.54" fill="#b2dfdb"/>
<rect x="310.91" y="295.05" width="1.8" height="1.85" fill="#26a69a"/>
<rect x="313.78" y="294.73" width="1.8" height="2.17" fill="#26a69a"/>
<rect x="316.64" y="294.75" width="1.8" height="2.15" fill="#b2dfdb"/>
<rect x="319.5" y="294.59" width="1.8" height="2.31" fill="#26a69a"/>
<rect x="322.37" y="294.21" width="1.8" height="2.69" fill="#26a69a"/>
<rect x="325.23" y="294.28" width="1.8" height="2.62" fill="#b2dfdb"/>
<rect x="328.1" y="294.99" width="1.8" height="1.91" fill="#b2dfdb"/>
<rect x="330.96" y="295.68" width="1.8" height="1.22" fill="#b2dfdb"/>
<rect x="333.82" y="296.17" width="1.8" height="0.73" fill="#b2dfdb"/>
<rect x="336.69" y="296.83" width="1.8" height="0.6" fill="#b2dfdb"/>
<rect x="339.55" y="296.9" width="1.8" height="0.6" fill="#ff5252"/>
<rect x="342.42" y="296.9" width="1.8" height="0.6" fill="#ff5252"/>
<rect x="345.28" y="296.9" width="1.8" height="0.6" fill="#ff5252"/>
<rect x="348.14" y="296.9" width="1.8" height="0.6" fill="#ffcdd2"/>
<rect x="351.01" y="296.9" width="1.8" height="0.6" fill="#ffcdd2"/>
<rect x="353.87" y="296.9" width="1.8" height="0.6" fill="#ff5252"/>
<rect x="356.74" y="296.9" width="1.8" height="0.6" fill="#ffcdd2"/>
<rect x="359.6" y="296.9" width="1.8" height="0.6" fill="#ffcdd2"/>
<rect x="362.46" y="296.64" width="1.8" height="0.6" fill="#26a69a"/>
<rect x="365.33" y="296.46" width="1.8" height="0.6" fill="#26a69a"/>
<rect x="368.19" y="296.14" width="1.8" height="0.76" fill="#26a69a"/>
<rect x="371.06" y="295.97" width="1.8" height="0.93" fill="#26a69a"/>
<rect x="373.92" y="296.04" width="1.8" height="0.86" fill="#b2dfdb"/>
<rect x="376.78" y="296.61" width="1.8" height="0.6" fill="#b2dfdb"/>
<rect x="379.65" y="296.9" width="1.8" height="0.6" fill="#ff5252"/>
<rect x="382.51" y="296.9" width="1.8" height="0.6" fill="#ff5252"/>
<rect x="385.38" y="296.9" width="1.8" height="0.97" fill="#ff5252"/>
<rect x="388.24" y="296.9" width="1.8" height="1.46" fill="#ff5252"/>
<rect x="391.1" y="296.9" width="1.8" height="2.47" fill="#ff5252"/>
<rect x="393.97" y="296.9" width="1.8" height="2.32" fill="#ffcdd2"/>
<rect x="396.83" y="296.9" width="1.8" height="1.95" fill="#ffcdd2"/>
<rect x="399.7" y="296.9" width="1.8" height="1.75" fill="#ffcdd2"/>
<rect x="402.56" y="296.9" width="1.8" height="1.36" fill="#ffcdd2"/>
<rect x="405.42" y="296.9" width="1.8" height="0.86" fill="#ffcdd2"/>
<rect x="408.29" y="296.9" width="1.8" height="0.6" fill="#ffcdd2"/>
<rect x="411.15" y="296.58" width="1.8" height="0.6" fill="#26a69a"/>
<rect x="414.02" y="295.91" width="1.8" height="0.99" fill="#26a69a"/>
<rect x="416.88" y="295.39" width="1.8" height="1.51" fill="#26a69a"/>
<rect x="419.74" y="295.29" width="1.8" height="1.61" fill="#26a69a"/>
<rect x="422.61" y="295.63" width="1.8" height="1.27" fill="#b2dfdb"/>
<rect x="425.47" y="296.01" width="1.8" height="0.89" fill="#b2dfdb"/>
<rect x="428.34" y="296.85" width="1.8" height="0.6" fill="#b2dfdb"/>
<rect x="431.2" y="296.9" width="1.8" height="1.42" fill="#ff5252"/>
<rect x="434.06" y="296.9" width="1.8" height="2.57" fill="#ff5252"/>
<rect x="436.93" y="296.9" width="1.8" height="2.6" fill="#ff5252"/>
<rect x="439.79" y="296.9" width="1.8" height="2.73" fill="#ff5252"/>
<rect x="442.66" y="296.9" width="1.8" height="2.32" fill="#ffcdd2"/>
<rect x="445.52" y="296.9" width="1.8" height="1.82" fill="#ffcdd2"/>
<rect x="448.38" y="296.9" width="1.8" height="0.99" fill="#ffcdd2"/>
<rect x="451.25" y="296.83" width="1.8" height="0.6" fill="#26a69a"/>
<rect x="454.11" y="296.08" width="1.8" height="0.82" fill="#26a69a"/>
<rect x="456.98" y="295.4" width="1.8" height="1.5" fill="#26a69a"/>
<rect x="459.84" y="294.62" width="1.8" height="2.28" fill="#26a69a"/>
<rect x="462.7" y="294.1" width="1.8" height="2.8" fill="#26a69a"/>
<rect x="465.57" y="294.19" width="1.8" height="2.71" fill="#b2dfdb"/>
<rect x="468.43" y="294.31" width="1.8" height="2.59" fill="#b2dfdb"/>
<rect x="471.3" y="291.98" width="1.8" height="4.92" fill="#26a69a"/>
<rect x="474.16" y="291.64" width="1.8" height="5.26" fill="#26a69a"/>
<rect x="477.02" y="292.4" width="1.8" height="4.5" fill="#b2dfdb"/>
<rect x="479.89" y="292.16" width="1.8" height="4.74" fill="#26a69a"/>
<rect x="482.75" y="293.87" width="1.8" height="3.03" fill="#b2dfdb"/>
<rect x="485.62" y="295.45" width="1.8" height="1.45" fill="#b2dfdb"/>
<rect x="488.48" y="295.66" width="1.8" height="1.24" fill="#b2dfdb"/>
<rect x="491.34" y="296.5" width="1.8" height="0.6" fill="#b2dfdb"/>
<rect x="494.21" y="296.88" width="1.8" height="0.6" fill="#b2dfdb"/>
<rect x="497.07" y="296.55" width="1.8" height="0.6" fill="#26a69a"/>
<rect x="499.94" y="296.64" width="1.8" height="0.6" fill="#b2dfdb"/>
<rect x="502.8" y="296.45" width="1.8" height="0.6" fill="#26a69a"/>
<rect x="505.66" y="296.01" width="1.8" height="0.89" fill="#26a69a"/>
<rect x="508.53" y="295.4" width="1.8" height="1.5" fill="#26a69a"/>
<rect x="511.39" y="295.32" width="1.8" height="1.58" fill="#26a69a"/>
<rect x="514.26" y="296.6" width="1.8" height="0.6" fill="#b2dfdb"/>
<rect x="517.12" y="296.9" width="1.8" height="0.93" fill="#ff5252"/>
<rect x="519.98" y="296.9" width="1.8" height="1.63" fill="#ff5252"/>
<rect x="522.85" y="296.9" width="1.8" height="2.59" fill="#ff5252"/>
<rect x="525.71" y="296.9" width="1.8" height="4.04" fill="#ff5252"/>
<rect x="528.58" y="296.9" width="1.8" height="4.85" fill="#ff5252"/>
<rect x="531.44" y="296.9" width="1.8" height="4.9" fill="#ff5252"/>
<rect x="534.3" y="296.9" width="1.8" height="5.99" fill="#ff5252"/>
<rect x="537.17" y="296.9" width="1.8" height="6.09" fill="#ff5252"/>
<rect x="540.03" y="296.9" width="1.8" height="6.2" fill="#ff5252"/>
<rect x="542.9" y="296.9" width="1.8" height="5.56" fill="#ffcdd2"/>
<rect x="545.76" y="296.9" width="1.8" height="5.63" fill="#ff5252"/>
<rect x="548.62" y="296.9" width="1.8" height="5.53" fill="#ffcdd2"/>
<rect x="551.49" y="296.9" width="1.8" height="5.3" fill="#ffcdd2"/>
<rect x="554.35" y="296.9" width="1.8" height="5.49" fill="#ff5252"/>
<rect x="557.22" y="296.9" width="1.8" height="5.31" fill="#ffcdd2"/>
<rect x="560.08" y="296.9" width="1.8" height="3.36" fill="#ffcdd2"/>
<rect x="562.94" y="296.9" width="1.8" height="2.82" fill="#ffcdd2"/>
<rect x="565.81" y="296.9" width="1.8" height="2.24" fill="#ffcdd2"/>
<rect x="568.67" y="296.9" width="1.8" height="1.41" fill="#ffcdd2"/>
<rect x="571.54" y="296.9" width="1.8" height="0.6" fill="#ffcdd2"/>
<rect x="574.4" y="296.9" width="1.8" height="0.6" fill="#26a69a"/>
<rect x="577.26" y="296.9" width="1.8" height="0.64" fill="#ff5252"/>
<rect x="580.13" y="296.9" width="1.8" height="1.4" fill="#ff5252"/>
<rect x="582.99" y="296.9" width="1.8" height="1.31" fill="#ffcdd2"/>
<rect x="585.86" y="296.9" width="1.8" height="2.1" fill="#ff5252"/>
<rect x="588.72" y="296.9" width="1.8" height="2.07" fill="#ffcdd2"/>
<rect x="591.58" y="296.9" width="1.8" height="1.4" fill="#ffcdd2"/>
<rect x="594.45" y="296.9" width="1.8" height="0.86" fill="#ffcdd2"/>
<rect x="597.31" y="296.9" width="1.8" height="1.04" fill="#ff5252"/>
<rect x="600.18" y="296.9" width="1.8" height="0.6" fill="#ffcdd2"/>
<rect x="603.04" y="296.48" width="1.8" height="0.6" fill="#26a69a"/>
<rect x="605.9" y="296.28" width="1.8" height="0.62" fill="#26a69a"/>
<rect x="608.77" y="296.78" width="1.8" height="0.6" fill="#b2dfdb"/>
<rect x="611.63" y="296.31" width="1.8" height="0.6" fill="#26a69a"/>
<rect x="614.5" y="296.33" width="1.8" height="0.6" fill="#b2dfdb"/>
<rect x="617.36" y="296.35" width="1.8" height="0.6" fill="#b2dfdb"/>
<rect x="620.22" y="295.89" width="1.8" height="1.01" fill="#26a69a"/>
<rect x="623.09" y="295.94" width="1.8" height="0.96" fill="#b2dfdb"/>
<rect x="625.95" y="296.9" width="1.8" height="0.6" fill="#ff5252"/>
<rect x="628.82" y="296.9" width="1.8" height="0.6" fill="#ff5252"/>
<rect x="631.68" y="296.88" width="1.8" height="0.6" fill="#26a69a"/>
<rect x="634.54" y="295.91" width="1.8" height="0.99" fill="#26a69a"/>
<rect x="637.41" y="295" width="1.8" height="1.9" fill="#26a69a"/>
<rect x="640.27" y="295.06" width="1.8" height="1.84" fill="#b2dfdb"/>
<rect x="643.14" y="295.25" width="1.8" height="1.65" fill="#b2dfdb"/>
<rect x="646" y="295.99" width="1.8" height="0.91" fill="#b2dfdb"/>
<rect x="648.86" y="296.61" width="1.8" height="0.6" fill="#b2dfdb"/>
<rect x="651.73" y="296.76" width="1.8" height="0.6" fill="#b2dfdb"/>
<rect x="654.59" y="296.7" width="1.8" height="0.6" fill="#26a69a"/>
<rect x="657.46" y="296.77" width="1.8" height="0.6" fill="#b2dfdb"/>
<rect x="660.32" y="296.9" width="1.8" height="0.6" fill="#ff5252"/>
<rect x="663.18" y="296.86" width="1.8" height="0.6" fill="#26a69a"/>
<rect x="666.05" y="296.9" width="1.8" height="0.6" fill="#ff5252"/>
<rect x="668.91" y="296.87" width="1.8" height="0.6" fill="#26a69a"/>
<rect x="671.78" y="296.43" width="1.8" height="0.6" fill="#26a69a"/>
<rect x="674.64" y="295.95" width="1.8" height="0.95" fill="#26a69a"/>
<rect x="677.5" y="295.47" width="1.8" height="1.43" fill="#26a69a"/>
<rect x="680.37" y="294.79" width="1.8" height="2.11" fill="#26a69a"/>
<rect x="683.23" y="294.22" width="1.8" height="2.68" fill="#26a69a"/>
<rect x="686.1" y="293.91" width="1.8" height="2.99" fill="#26a69a"/>
<rect x="688.96" y="294.11" width="1.8" height="2.79" fill="#b2dfdb"/>
<rect x="691.82" y="294.44" width="1.8" height="2.46" fill="#b2dfdb"/>
<rect x="694.69" y="294.1" width="1.8" height="2.8" fill="#26a69a"/>
<rect x="697.55" y="293.91" width="1.8" height="2.99" fill="#26a69a"/>
<rect x="700.42" y="293.55" width="1.8" height="3.35" fill="#26a69a"/>
<rect x="703.28" y="293.57" width="1.8" height="3.33" fill="#b2dfdb"/>
<rect x="706.14" y="293.67" width="1.8" height="3.23" fill="#b2dfdb"/>
<rect x="709.01" y="294.24" width="1.8" height="2.66" fill="#b2dfdb"/>
<polyline points="-0.36,305.8 2.5,305.42 5.36,304.73 8.23,304.19 11.09,303.44 13.96,303.12 16.82,302.35 19.68,301.54 22.55,301.1 25.41,300.58 28.28,299.79 31.14,299.07 34,298.3 36.87,297.29 39.73,296.37 42.6,295.62 45.46,295.29 48.32,295.17 51.19,295.1 54.05,294.88 56.92,295.32 59.78,296.45 62.64,297.2 65.51,298.06 68.37,297.96 71.24,297.76 74.1,297.72 76.96,297.25 79.83,297.58 82.69,297.73 85.56,298.03 88.42,298.35 91.28,298.45 94.15,298.7 97.01,298.66 99.88,298.36 102.74,298.48 105.6,297.98 108.47,297.9 111.33,298.3 114.2,298.28 117.06,298.48 119.92,298.16 122.79,298.02 125.65,297.67 128.52,297.34 131.38,297.07 134.24,297.22 137.11,296.79 139.97,296.36 142.84,295.94 145.7,295.45 148.56,294.89 151.43,295.07 154.29,295.29 157.16,296.1 160.02,297.08 162.88,298.04 165.75,298.46 168.61,298.64 171.48,299.98 174.34,301.45 177.2,303.75 180.07,306.74 182.93,309.23 185.8,310.07 188.66,311.33 191.52,312.65 194.39,314.26 197.25,315.05 200.12,315.01 202.98,314.32 205.84,312.95 208.71,311.27 211.57,309.12 214.44,307.45 217.3,305.41 220.16,303.87 223.03,302.21 225.89,300.77 228.76,299.6 231.62,298.54 234.48,297.82 237.35,297.07 240.21,296.35 243.08,295.91 245.94,295.41 248.8,295.53 251.67,295.94 254.53,295.7 257.4,295.7 260.26,296.16 263.12,295.96 265.99,295.81 268.85,295.88 271.72,296.3 274.58,296.5 277.44,296.4 280.31,295.99 283.17,295.26 286.04,294.61 288.9,294.05 291.76,293.33 294.63,292.94 297.49,292.61 300.36,291.83 303.22,291.39 306.08,291.12 308.95,290.91 311.81,290.14 314.68,289.27 317.54,288.76 320.4,288.01 323.27,286.97 326.13,286.38 329,286.61 331.86,287 334.72,287.31 337.59,287.95 340.45,288.02 343.32,288.35 346.18,288.49 349.04,288.51 351.91,288.54 354.77,288.92 357.64,288.9 360.5,288.54 363.36,288.19 366.23,287.9 369.09,287.4 371.96,286.99 374.82,286.85 377.68,287.35 380.55,287.7 383.41,287.87 386.28,288.91 389.14,289.77 392,291.39 394.87,291.82 397.73,291.94 400.6,292.18 403.46,292.12 406.32,291.84 409.19,291.47 412.05,290.68 414.92,289.76 417.78,288.86 420.64,288.36 423.51,288.38 426.37,288.54 429.24,289.37 432.1,291.19 434.96,292.99 437.83,293.67 440.69,294.48 443.56,294.65 446.42,294.6 449.28,294.03 452.15,292.94 455.01,291.98 457.88,290.93 460.74,289.58 463.6,288.36 466.47,287.78 469.33,287.25 472.2,283.69 475.06,282.03 477.92,281.66 480.79,280.24 483.65,281.19 486.52,282.41 489.38,282.32 492.24,283.05 495.11,283.43 497.97,283.01 500.84,283.04 503.7,282.73 506.56,282.07 509.43,281.09 512.29,280.61 515.16,281.81 518.02,283.28 520.88,284.38 523.75,285.99 526.61,288.45 529.48,290.47 532.34,291.74 535.2,294.33 538.07,295.95 540.93,297.62 543.8,298.37 546.66,299.84 549.52,301.12 552.39,302.22 555.25,303.78 558.12,304.93 560.98,303.82 563.84,303.99 566.71,303.97 569.57,303.49 572.44,302.43 575.3,302.14 578.16,302.95 581.03,304.06 583.89,304.3 586.76,305.61 589.62,306.1 592.48,305.77 595.35,305.45 598.21,305.89 601.08,305.2 603.94,304.4 606.8,304.04 609.67,304.51 612.53,303.89 615.4,303.78 618.26,303.65 621.12,302.95 623.99,302.76 626.85,303.97 629.72,304.44 632.58,303.88 635.44,302.66 638.31,301.28 641.17,300.87 644.04,300.65 646.9,301.16 649.76,301.71 652.63,301.83 655.49,301.71 658.36,301.75 661.22,301.95 664.08,301.85 666.95,302 669.81,301.88 672.68,301.31 675.54,300.6 678.4,299.75 681.27,298.55 684.13,297.32 687,296.25 689.86,295.76 692.72,295.47 695.59,294.43 698.45,293.5 701.32,292.3 704.18,291.48 707.04,290.78 709.91,290.69" fill="none" stroke="#2962ff" stroke-width="1.3" stroke-linejoin="round" />
<polyline points="-0.36,302.38 2.5,302.99 5.36,303.34 8.23,303.51 11.09,303.49 13.96,303.42 16.82,303.21 19.68,302.87 22.55,302.52 25.41,302.13 28.28,301.66 31.14,301.14 34,300.57 36.87,299.92 39.73,299.21 42.6,298.49 45.46,297.85 48.32,297.32 51.19,296.87 54.05,296.47 56.92,296.24 59.78,296.29 62.64,296.47 65.51,296.79 68.37,297.02 71.24,297.17 74.1,297.28 76.96,297.27 79.83,297.34 82.69,297.41 85.56,297.54 88.42,297.7 91.28,297.85 94.15,298.02 97.01,298.15 99.88,298.19 102.74,298.25 105.6,298.2 108.47,298.14 111.33,298.17 114.2,298.19 117.06,298.25 119.92,298.23 122.79,298.19 125.65,298.08 128.52,297.93 131.38,297.76 134.24,297.65 137.11,297.48 139.97,297.26 142.84,296.99 145.7,296.69 148.56,296.33 151.43,296.07 154.29,295.92 157.16,295.95 160.02,296.18 162.88,296.55 165.75,296.93 168.61,297.27 171.48,297.82 174.34,298.54 177.2,299.58 180.07,301.01 182.93,302.66 185.8,304.14 188.66,305.58 191.52,306.99 194.39,308.45 197.25,309.77 200.12,310.82 202.98,311.52 205.84,311.81 208.71,311.7 211.57,311.18 214.44,310.44 217.3,309.43 220.16,308.32 223.03,307.1 225.89,305.83 228.76,304.59 231.62,303.38 234.48,302.26 237.35,301.23 240.21,300.25 243.08,299.38 245.94,298.59 248.8,297.98 251.67,297.57 254.53,297.2 257.4,296.9 260.26,296.75 263.12,296.59 265.99,296.43 268.85,296.32 271.72,296.32 274.58,296.35 277.44,296.36 280.31,296.29 283.17,296.08 286.04,295.79 288.9,295.44 291.76,295.02 294.63,294.6 297.49,294.2 300.36,293.73 303.22,293.26 306.08,292.83 308.95,292.45 311.81,291.99 314.68,291.44 317.54,290.91 320.4,290.33 323.27,289.66 326.13,289 329,288.52 331.86,288.22 334.72,288.04 337.59,288.02 340.45,288.02 343.32,288.09 346.18,288.17 349.04,288.23 351.91,288.3 354.77,288.42 357.64,288.52 360.5,288.52 363.36,288.46 366.23,288.34 369.09,288.16 371.96,287.92 374.82,287.71 377.68,287.64 380.55,287.65 383.41,287.69 386.28,287.94 389.14,288.3 392,288.92 394.87,289.5 397.73,289.99 400.6,290.42 403.46,290.76 406.32,290.98 409.19,291.08 412.05,291 414.92,290.75 417.78,290.37 420.64,289.97 423.51,289.65 426.37,289.43 429.24,289.42 432.1,289.77 434.96,290.41 437.83,291.06 440.69,291.75 443.56,292.33 446.42,292.78 449.28,293.03 452.15,293.01 455.01,292.81 457.88,292.43 460.74,291.86 463.6,291.16 466.47,290.48 469.33,289.84 472.2,288.61 475.06,287.29 477.92,286.17 480.79,284.98 483.65,284.22 486.52,283.86 489.38,283.55 492.24,283.45 495.11,283.45 497.97,283.36 500.84,283.29 503.7,283.18 506.56,282.96 509.43,282.59 512.29,282.19 515.16,282.12 518.02,282.35 520.88,282.75 523.75,283.4 526.61,284.41 529.48,285.62 532.34,286.85 535.2,288.34 538.07,289.87 540.93,291.42 543.8,292.81 546.66,294.21 549.52,295.6 552.39,296.92 555.25,298.29 558.12,299.62 560.98,300.46 563.84,301.17 566.71,301.73 569.57,302.08 572.44,302.15 575.3,302.15 578.16,302.31 581.03,302.66 583.89,302.99 586.76,303.51 589.62,304.03 592.48,304.38 595.35,304.59 598.21,304.85 601.08,304.92 603.94,304.82 606.8,304.66 609.67,304.63 612.53,304.48 615.4,304.34 618.26,304.2 621.12,303.95 623.99,303.71 626.85,303.77 629.72,303.9 632.58,303.89 635.44,303.65 638.31,303.17 641.17,302.71 644.04,302.3 646.9,302.07 649.76,302 652.63,301.96 655.49,301.91 658.36,301.88 661.22,301.9 664.08,301.89 666.95,301.91 669.81,301.9 672.68,301.78 675.54,301.55 678.4,301.19 681.27,300.66 684.13,299.99 687,299.24 689.86,298.55 692.72,297.93 695.59,297.23 698.45,296.49 701.32,295.65 704.18,294.82 707.04,294.01 709.91,293.34" fill="none" stroke="#ff6d00" stroke-width="1.3" stroke-linejoin="round" />
</g>
<g clip-path="url(#cps)">
<polyline points="-0.36,378.38 2.5,370.25 5.36,362.83 8.23,359.2 11.09,353.47 13.96,349.39 16.82,328.59 19.68,328.19 22.55,335.94 25.41,331.96 28.28,327.68 31.14,327.54 34,327.2 36.87,326.6 39.73,326.99 42.6,327.8 45.46,337.98 48.32,341.74 51.19,341.74 54.05,336 56.92,360.54 59.78,379.09 62.64,374.55 65.51,379.97 68.37,357.26 71.24,353.79 74.1,357.84 76.96,345.12 79.83,365.74 82.69,362.66 85.56,366.89 88.42,369.2 91.28,364.78 94.15,370.97 97.01,359.25 99.88,349.57 102.74,364.35 105.6,346.96 108.47,358.32 111.33,375.76 114.2,364.21 117.06,372.23 119.92,356.19 122.79,360.67 125.65,352.19 128.52,351.88 131.38,351.88 134.24,365.12 137.11,345.02 139.97,341.34 142.84,338.15 145.7,329.36 148.56,329.08 151.43,353.71 154.29,356.52 157.16,376.67 160.02,379.53 162.88,379.91 165.75,371.75 168.61,368.1 171.48,380.99 174.34,381.41 177.2,376.95 180.07,382.57 182.93,382.83 185.8,373.27 188.66,380.63 191.52,382.5 194.39,381.19 197.25,378.15 200.12,373.42 202.98,368.72 205.84,362.25 208.71,357.89 211.57,342.5 214.44,339.82 217.3,325.58 220.16,328.01 223.03,325.44 225.89,325.39 228.76,325.39 231.62,325.33 234.48,327.38 237.35,325.52 240.21,325.75 243.08,328.45 245.94,326.93 248.8,342.15 251.67,360.45 254.53,337.95 257.4,353.6 260.26,375.59 263.12,345.46 265.99,345.46 268.85,354.81 271.72,373.17 274.58,361.46 277.44,349.13 280.31,333.73 283.17,329.01 286.04,328.65 288.9,328.44 291.76,327.64 294.63,331.39 297.49,329.51 300.36,326.75 303.22,329.19 306.08,329.64 308.95,328.12 311.81,326.03 314.68,325.9 317.54,327.98 320.4,326.24 323.27,326.07 326.13,330.38 329,341.42 331.86,344.75 334.72,342.57 337.59,349.18 340.45,340.68 343.32,344.98 346.18,339.52 349.04,335.14 351.91,337.15 354.77,350.81 357.64,333.26 360.5,328.56 363.36,328.11 366.23,327.82 369.09,327.06 371.96,326.95 374.82,331.34 377.68,342.62 380.55,341.62 383.41,336.16 386.28,359.36 389.14,358.06 392,379.82 394.87,355.37 397.73,348.11 400.6,350.59 403.46,342.62 406.32,334.64 409.19,329.15 412.05,326.59 414.92,326.16 417.78,325.91 420.64,329.01 423.51,334.49 426.37,335.3 429.24,346.14 432.1,365.14 434.96,380.72 437.83,364.19 440.69,369.28 443.56,358.83 446.42,354.45 449.28,342.3 452.15,328.18 455.01,326.39 457.88,326.02 460.74,325.55 463.6,325.39 466.47,329.5 469.33,326.86 472.2,323.79 475.06,342.88 477.92,348.78 480.79,339.68 483.65,355.29 486.52,358.59 489.38,350.96 492.24,359.62 495.11,357.19 497.97,350.29 500.84,355.75 503.7,350.44 506.56,344.04 509.43,337.31 512.29,340.82 515.16,352.39 518.02,357.96 520.88,354.81 523.75,364.38 526.61,376.79 529.48,376.79 532.34,371.18 535.2,382.22 538.07,376.86 540.93,379.47 543.8,372.98 546.66,382.34 549.52,382.39 552.39,382.39 555.25,382.02 558.12,382.01 560.98,355.81 563.84,368.95 566.71,364.48 569.57,357.23 572.44,345.84 575.3,350.3 578.16,376.23 581.03,380.82 583.89,369.44 586.76,381.17 589.62,371.65 592.48,360.74 595.35,361.34 598.21,375.61 601.08,358.7 603.94,355.82 606.8,362.06 609.67,377.29 612.53,360.98 615.4,365.71 618.26,356.49 621.12,337.99 623.99,353.02 626.85,380.13 629.72,368.33 632.58,348.11 635.44,331.23 638.31,326.67 641.17,342.89 644.04,346.31 646.9,361.63 649.76,366.15 652.63,360.46 655.49,357.1 658.36,361.19 661.22,366.15 664.08,361.63 666.95,368.05 669.81,363.96 672.68,354.91 675.54,349.95 678.4,343.93 681.27,327.06 684.13,326.64 687,327.43 689.86,336.39 692.72,338.54 695.59,326.74 698.45,326.54 701.32,325.99 704.18,329.29 707.04,332.06 709.91,338.97" fill="none" stroke="#2962ff" stroke-width="1.3" stroke-linejoin="round" />
<polyline points="-0.36,377.41 2.5,376.22 5.36,370.49 8.23,364.09 11.09,358.5 13.96,354.02 16.82,343.82 19.68,335.39 22.55,330.91 25.41,332.03 28.28,331.86 31.14,329.06 34,327.47 36.87,327.11 39.73,326.93 42.6,327.13 45.46,330.92 48.32,335.84 51.19,340.48 54.05,339.82 56.92,346.09 59.78,358.55 62.64,371.39 65.51,377.87 68.37,370.59 71.24,363.67 74.1,356.3 76.96,352.25 79.83,356.23 82.69,357.84 85.56,365.1 88.42,366.25 91.28,366.95 94.15,368.32 97.01,365 99.88,359.93 102.74,357.72 105.6,353.63 108.47,356.54 111.33,360.34 114.2,366.1 117.06,370.73 119.92,364.21 122.79,363.03 125.65,356.35 128.52,354.91 131.38,351.98 134.24,356.3 137.11,354.01 139.97,350.49 142.84,341.5 145.7,336.28 148.56,332.2 151.43,337.38 154.29,346.44 157.16,362.3 160.02,370.91 162.88,378.7 165.75,377.06 168.61,373.25 171.48,373.61 174.34,376.83 177.2,379.78 180.07,380.31 182.93,380.78 185.8,379.56 188.66,378.91 191.52,378.8 194.39,381.44 197.25,380.62 200.12,377.59 202.98,373.43 205.84,368.13 208.71,362.95 211.57,354.21 214.44,346.74 217.3,335.97 220.16,331.14 223.03,326.34 225.89,326.28 228.76,325.41 231.62,325.37 234.48,326.03 237.35,326.08 240.21,326.22 243.08,326.57 245.94,327.04 248.8,332.51 251.67,343.18 254.53,346.85 257.4,350.67 260.26,355.71 263.12,358.22 265.99,355.5 268.85,348.58 271.72,357.81 274.58,363.14 277.44,361.25 280.31,348.11 283.17,337.29 286.04,330.46 288.9,328.7 291.76,328.24 294.63,329.16 297.49,329.51 300.36,329.22 303.22,328.48 306.08,328.53 308.95,328.98 311.81,327.93 314.68,326.69 317.54,326.64 320.4,326.71 323.27,326.76 326.13,327.56 329,332.62 331.86,338.85 334.72,342.91 337.59,345.5 340.45,344.14 343.32,344.95 346.18,341.73 349.04,339.88 351.91,337.27 354.77,341.04 357.64,340.41 360.5,337.55 363.36,329.98 366.23,328.16 369.09,327.66 371.96,327.27 374.82,328.45 377.68,333.64 380.55,338.53 383.41,340.13 386.28,345.71 389.14,351.19 392,365.75 394.87,364.42 397.73,361.1 400.6,351.36 403.46,347.1 406.32,342.62 409.19,335.47 412.05,330.13 414.92,327.3 417.78,326.22 420.64,327.03 423.51,329.8 426.37,332.93 429.24,338.64 432.1,348.86 434.96,364 437.83,370.02 440.69,371.4 443.56,364.1 446.42,360.85 449.28,351.86 452.15,341.64 455.01,332.29 457.88,326.86 460.74,325.98 463.6,325.65 466.47,326.81 469.33,327.25 472.2,326.72 475.06,331.18 477.92,338.48 480.79,343.78 483.65,347.92 486.52,351.19 489.38,354.95 492.24,356.39 495.11,355.92 497.97,355.7 500.84,354.41 503.7,352.16 506.56,350.07 509.43,343.93 512.29,340.72 515.16,343.5 518.02,350.39 520.88,355.05 523.75,359.05 526.61,365.33 529.48,372.65 532.34,374.92 535.2,376.73 538.07,376.75 540.93,379.52 543.8,376.44 546.66,378.26 549.52,379.24 552.39,382.37 555.25,382.27 558.12,382.14 560.98,373.28 563.84,368.92 566.71,363.08 569.57,363.55 572.44,355.85 575.3,351.12 578.16,357.46 581.03,369.12 583.89,375.5 586.76,377.14 589.62,374.09 592.48,371.19 595.35,364.58 598.21,365.9 601.08,365.22 603.94,363.38 606.8,358.86 609.67,365.06 612.53,366.78 615.4,367.99 618.26,361.06 621.12,353.4 623.99,349.17 626.85,357.05 629.72,367.16 632.58,365.52 635.44,349.22 638.31,335.34 641.17,333.6 644.04,338.62 646.9,350.27 649.76,358.03 652.63,362.75 655.49,361.24 658.36,359.58 661.22,361.48 664.08,362.99 666.95,365.28 669.81,364.55 672.68,362.31 675.54,356.28 678.4,349.6 681.27,340.31 684.13,332.54 687,327.04 689.86,330.16 692.72,334.12 695.59,333.89 698.45,330.61 701.32,326.42 704.18,327.27 707.04,329.11 709.91,333.44" fill="none" stroke="#ff6d00" stroke-width="1.3" stroke-linejoin="round" />
</g>
<g clip-path="url(#cpr)">
<polygon points="-0.36,403.85 -0.36,403.85 2.5,403.85 5.36,403.85 8.23,403.85 11.09,403.85 13.96,403.85 16.82,403.85 19.68,403.85 22.55,403.85 25.41,403.85 28.28,403.85 31.14,403.85 34,403.85 36.87,403.85 39.73,403.85 42.6,403.85 45.46,403.85 48.32,403.85 51.19,403.85 54.05,403.85 56.92,403.85 59.78,403.85 62.64,403.85 65.51,403.85 68.37,403.85 71.24,403.85 74.1,403.85 76.96,403.85 79.83,403.85 82.69,403.85 85.56,403.85 88.42,403.85 91.28,403.85 94.15,403.85 97.01,403.85 99.88,403.85 102.74,403.85 105.6,403.85 108.47,403.85 111.33,403.85 114.2,403.85 117.06,403.85 119.92,403.85 122.79,403.85 125.65,403.85 128.52,403.85 131.38,403.85 134.24,403.85 137.11,403.85 139.97,403.85 142.84,403.85 145.7,403.85 148.56,403.85 151.43,403.85 154.29,403.85 157.16,403.85 160.02,403.85 162.88,403.85 165.75,403.85 168.61,403.85 171.48,403.85 174.34,403.85 177.2,403.85 180.07,403.85 182.93,403.85 185.8,403.85 188.66,403.85 191.52,403.85 194.39,403.85 197.25,403.85 200.12,403.85 202.98,403.85 205.84,403.85 208.71,403.85 211.57,403.85 214.44,403.85 217.3,403.85 220.16,403.85 223.03,403.85 225.89,403.85 228.76,403.85 231.62,403.85 234.48,403.85 237.35,403.85 240.21,403.85 243.08,403.85 245.94,403.85 248.8,403.85 251.67,403.85 254.53,403.85 257.4,403.85 260.26,403.85 263.12,403.85 265.99,403.85 268.85,403.85 271.72,403.85 274.58,403.85 277.44,403.85 280.31,403.85 283.17,403.85 286.04,403.85 288.9,403.85 291.76,403.85 294.63,403.85 297.49,403.85 300.36,403.85 303.22,403.85 306.08,403.85 308.95,403.85 311.81,401.23 314.68,398.95 317.54,400.63 320.4,397.7 323.27,394.65 326.13,396.93 329,403.85 331.86,403.85 334.72,403.85 337.59,403.85 340.45,403.85 343.32,403.85 346.18,403.85 349.04,403.85 351.91,403.85 354.77,403.85 357.64,403.85 360.5,403.24 363.36,402.08 366.23,401.21 369.09,398.59 371.96,397.83 374.82,399.36 377.68,403.85 380.55,403.85 383.41,403.85 386.28,403.85 389.14,403.85 392,403.85 394.87,403.85 397.73,403.85 400.6,403.85 403.46,403.85 406.32,403.85 409.19,403.85 412.05,403.85 414.92,403.76 417.78,402.15 420.64,403.85 423.51,403.85 426.37,403.85 429.24,403.85 432.1,403.85 434.96,403.85 437.83,403.85 440.69,403.85 443.56,403.85 446.42,403.85 449.28,403.85 452.15,403.85 455.01,403.85 457.88,403.85 460.74,403.68 463.6,402.43 466.47,403.85 469.33,403.85 472.2,392.98 475.06,401.96 477.92,403.85 480.79,403.36 483.65,403.85 486.52,403.85 489.38,403.85 492.24,403.85 495.11,403.85 497.97,403.85 500.84,403.85 503.7,403.85 506.56,403.85 509.43,403.85 512.29,403.85 515.16,403.85 518.02,403.85 520.88,403.85 523.75,403.85 526.61,403.85 529.48,403.85 532.34,403.85 535.2,403.85 538.07,403.85 540.93,403.85 543.8,403.85 546.66,403.85 549.52,403.85 552.39,403.85 555.25,403.85 558.12,403.85 560.98,403.85 563.84,403.85 566.71,403.85 569.57,403.85 572.44,403.85 575.3,403.85 578.16,403.85 581.03,403.85 583.89,403.85 586.76,403.85 589.62,403.85 592.48,403.85 595.35,403.85 598.21,403.85 601.08,403.85 603.94,403.85 606.8,403.85 609.67,403.85 612.53,403.85 615.4,403.85 618.26,403.85 621.12,403.85 623.99,403.85 626.85,403.85 629.72,403.85 632.58,403.85 635.44,403.85 638.31,403.85 641.17,403.85 644.04,403.85 646.9,403.85 649.76,403.85 652.63,403.85 655.49,403.85 658.36,403.85 661.22,403.85 664.08,403.85 666.95,403.85 669.81,403.85 672.68,403.85 675.54,403.85 678.4,403.85 681.27,403.85 684.13,403.85 687,403.85 689.86,403.85 692.72,403.85 695.59,403.85 698.45,403.85 701.32,403.85 704.18,403.85 707.04,403.85 709.91,403.85 709.91,403.85" fill="#26a69a" fill-opacity="0.12"/>
<polygon points="-0.36,441.95 -0.36,444.25 2.5,441.95 5.36,441.95 8.23,441.95 11.09,441.95 13.96,441.95 16.82,441.95 19.68,441.95 22.55,441.95 25.41,441.95 28.28,441.95 31.14,441.95 34,441.95 36.87,441.95 39.73,441.95 42.6,441.95 45.46,441.95 48.32,441.95 51.19,441.95 54.05,441.95 56.92,441.95 59.78,441.95 62.64,441.95 65.51,441.95 68.37,441.95 71.24,441.95 74.1,441.95 76.96,441.95 79.83,441.95 82.69,441.95 85.56,441.95 88.42,441.95 91.28,441.95 94.15,441.95 97.01,441.95 99.88,441.95 102.74,441.95 105.6,441.95 108.47,441.95 111.33,441.95 114.2,441.95 117.06,441.95 119.92,441.95 122.79,441.95 125.65,441.95 128.52,441.95 131.38,441.95 134.24,441.95 137.11,441.95 139.97,441.95 142.84,441.95 145.7,441.95 148.56,441.95 151.43,441.95 154.29,441.95 157.16,441.95 160.02,441.95 162.88,441.95 165.75,441.95 168.61,441.95 171.48,441.95 174.34,442.03 177.2,447.99 180.07,452.32 182.93,453.09 185.8,442.05 188.66,445.05 191.52,446.82 194.39,449.24 197.25,446.43 200.12,441.95 202.98,441.95 205.84,441.95 208.71,441.95 211.57,441.95 214.44,441.95 217.3,441.95 220.16,441.95 223.03,441.95 225.89,441.95 228.76,441.95 231.62,441.95 234.48,441.95 237.35,441.95 240.21,441.95 243.08,441.95 245.94,441.95 248.8,441.95 251.67,441.95 254.53,441.95 257.4,441.95 260.26,441.95 263.12,441.95 265.99,441.95 268.85,441.95 271.72,441.95 274.58,441.95 277.44,441.95 280.31,441.95 283.17,441.95 286.04,441.95 288.9,441.95 291.76,441.95 294.63,441.95 297.49,441.95 300.36,441.95 303.22,441.95 306.08,441.95 308.95,441.95 311.81,441.95 314.68,441.95 317.54,441.95 320.4,441.95 323.27,441.95 326.13,441.95 329,441.95 331.86,441.95 334.72,441.95 337.59,441.95 340.45,441.95 343.32,441.95 346.18,441.95 349.04,441.95 351.91,441.95 354.77,441.95 357.64,441.95 360.5,441.95 363.36,441.95 366.23,441.95 369.09,441.95 371.96,441.95 374.82,441.95 377.68,441.95 380.55,441.95 383.41,441.95 386.28,441.95 389.14,441.95 392,441.95 394.87,441.95 397.73,441.95 400.6,441.95 403.46,441.95 406.32,441.95 409.19,441.95 412.05,441.95 414.92,441.95 417.78,441.95 420.64,441.95 423.51,441.95 426.37,441.95 429.24,441.95 432.1,441.95 434.96,441.95 437.83,441.95 440.69,441.95 443.56,441.95 446.42,441.95 449.28,441.95 452.15,441.95 455.01,441.95 457.88,441.95 460.74,441.95 463.6,441.95 466.47,441.95 469.33,441.95 472.2,441.95 475.06,441.95 477.92,441.95 480.79,441.95 483.65,441.95 486.52,441.95 489.38,441.95 492.24,441.95 495.11,441.95 497.97,441.95 500.84,441.95 503.7,441.95 506.56,441.95 509.43,441.95 512.29,441.95 515.16,441.95 518.02,441.95 520.88,441.95 523.75,441.95 526.61,441.95 529.48,441.95 532.34,441.95 535.2,441.95 538.07,441.95 540.93,441.95 543.8,441.95 546.66,441.95 549.52,441.95 552.39,441.95 555.25,441.95 558.12,441.95 560.98,441.95 563.84,441.95 566.71,441.95 569.57,441.95 572.44,441.95 575.3,441.95 578.16,441.95 581.03,441.95 583.89,441.95 586.76,441.95 589.62,441.95 592.48,441.95 595.35,441.95 598.21,441.95 601.08,441.95 603.94,441.95 606.8,441.95 609.67,441.95 612.53,441.95 615.4,441.95 618.26,441.95 621.12,441.95 623.99,441.95 626.85,441.95 629.72,441.95 632.58,441.95 635.44,441.95 638.31,441.95 641.17,441.95 644.04,441.95 646.9,441.95 649.76,441.95 652.63,441.95 655.49,441.95 658.36,441.95 661.22,441.95 664.08,441.95 666.95,441.95 669.81,441.95 672.68,441.95 675.54,441.95 678.4,441.95 681.27,441.95 684.13,441.95 687,441.95 689.86,441.95 692.72,441.95 695.59,441.95 698.45,441.95 701.32,441.95 704.18,441.95 707.04,441.95 709.91,441.95 709.91,441.95" fill="#f23645" fill-opacity="0.2"/>
<polyline points="-0.36,435.3 2.5,436.79 5.36,438.66 8.23,439.32 11.09,439.31 13.96,439.23 16.82,438.26 19.68,436.93 22.55,435.74 25.41,434.34 28.28,432.56 31.14,430.6 34,428.75 36.87,426.35 39.73,424.03 42.6,422.39 45.46,421.34 48.32,420.39 51.19,419.68 54.05,418.51 56.92,418.48 59.78,419.2 62.64,419.56 65.51,420.24 68.37,420.49 71.24,420.7 74.1,421.18 76.96,421.6 79.83,422.7 82.69,423.73 85.56,424.61 88.42,425.41 91.28,426.08 94.15,427.1 97.01,427.18 99.88,426.4 102.74,426.1 105.6,425.08 108.47,425.08 111.33,425.56 114.2,425.64 117.06,426.25 119.92,425.9 122.79,425.75 125.65,425.25 128.52,424.65 131.38,424.17 134.24,423.89 137.11,423.35 139.97,422.96 142.84,422.17 145.7,421.76 148.56,420.92 151.43,420.34 154.29,420.12 157.16,420.27 160.02,421.05 162.88,421.85 165.75,422.52 168.61,423.08 171.48,424.41 174.34,425.61 177.2,427.73 180.07,430.23 182.93,432.86 185.8,434.85 188.66,437.2 191.52,439.03 194.39,440.97 197.25,442.18 200.12,442.8 202.98,443 205.84,443.13 208.71,443.17 211.57,442.07 214.44,440.84 217.3,438.87 220.16,436.68 223.03,434.24 225.89,432.55 228.76,430.65 231.62,428.55 234.48,426.38 237.35,424.31 240.21,422.47 243.08,421.04 245.94,419.88 248.8,419.4 251.67,419.5 254.53,419.1 257.4,419.15 260.26,419.44 263.12,419.51 265.99,419.62 268.85,419.87 271.72,420.46 274.58,420.84 277.44,421.11 280.31,421.21 283.17,420.93 286.04,420.68 288.9,419.97 291.76,418.82 294.63,418.25 297.49,417.49 300.36,416.03 303.22,415.13 306.08,414.25 308.95,413.18 311.81,411.43 314.68,409.62 317.54,408.16 320.4,406.74 323.27,405.39 326.13,404.27 329,403.92 331.86,403.86 334.72,403.59 337.59,403.7 340.45,403.84 343.32,404.04 346.18,404.07 349.04,404.05 351.91,404.37 354.77,405.2 357.64,405.63 360.5,406.03 363.36,406.56 366.23,406.86 369.09,406.27 371.96,405.52 374.82,404.95 377.68,404.71 380.55,404.72 383.41,404.4 386.28,405.12 389.14,405.92 392,407.51 394.87,408.08 397.73,408.76 400.6,409.76 403.46,410.65 406.32,411.42 409.19,412.26 412.05,412.86 414.92,413.17 417.78,412.7 420.64,412.46 423.51,412.68 426.37,412.04 429.24,412.04 432.1,412.06 434.96,412.96 437.83,413.47 440.69,414.05 443.56,414.5 446.42,415.02 449.28,415.33 452.15,415.61 455.01,416 457.88,416.35 460.74,416.33 463.6,415.88 466.47,415.64 469.33,414.73 472.2,412.19 475.06,410.12 477.92,409.02 480.79,407.45 483.65,407.05 486.52,406.89 489.38,406.71 492.24,407.1 495.11,407.47 497.97,407.75 500.84,408.36 503.7,408.93 506.56,409.09 509.43,409.16 512.29,410.15 515.16,411.15 518.02,411.88 520.88,412.86 523.75,413.25 526.61,413.94 529.48,414.97 532.34,415.58 535.2,416.83 538.07,418.13 540.93,419.47 543.8,420.69 546.66,422.38 549.52,424.28 552.39,426.17 555.25,427.64 558.12,428.97 560.98,429.43 563.84,430.03 566.71,430.18 569.57,430.16 572.44,430.05 575.3,429.64 578.16,429.8 581.03,430 583.89,430.2 586.76,430.45 589.62,430.45 592.48,430.13 595.35,429.57 598.21,429.29 601.08,429.51 603.94,429.27 606.8,429.2 609.67,429.59 612.53,429.83 615.4,429.99 618.26,429.79 621.12,429.17 623.99,428.98 626.85,428.93 629.72,428.88 632.58,428.71 635.44,428.24 638.31,427.36 641.17,427.2 644.04,427.17 646.9,427.29 649.76,427.17 652.63,427.34 655.49,427.27 658.36,427.26 661.22,427.6 664.08,427.65 666.95,427.33 669.81,427.09 672.68,426.97 675.54,427.01 678.4,427.04 681.27,426.48 684.13,425.72 687,424.63 689.86,423.72 692.72,423 695.59,421.9 698.45,420.63 701.32,419.02 704.18,417.6 707.04,415.97 709.91,414.84" fill="none" stroke="#fdd835" stroke-width="1.3" stroke-linejoin="round" />
<polyline points="-0.36,444.25 2.5,434.17 5.36,430.23 8.23,431.02 11.09,427.6 13.96,431.31 16.82,425.25 19.68,423.54 22.55,426.4 25.41,424.74 28.28,420.39 31.14,419.59 34,417.4 36.87,413.02 39.73,411.7 42.6,411.27 45.46,415.55 48.32,417.66 51.19,417.66 54.05,414.96 56.92,424.79 59.78,433.67 62.64,431.42 65.51,434.35 68.37,423.87 71.24,422.46 74.1,424.15 76.96,418.95 79.83,427.03 82.69,425.76 85.56,427.81 88.42,428.87 91.28,427.02 94.15,429.18 97.01,425.99 99.88,422.7 102.74,427.31 105.6,420.04 108.47,423.88 111.33,429.2 114.2,425.14 117.06,427.56 119.92,422.18 122.79,423.63 125.65,420.84 128.52,420.37 131.38,420.37 134.24,425.22 137.11,418.4 139.97,417.27 142.84,416.27 145.7,414.27 148.56,412.1 151.43,421.15 154.29,422.06 157.16,429.6 160.02,433.11 162.88,434.88 165.75,430.18 168.61,428.18 171.48,439.08 174.34,442.03 177.2,447.99 180.07,452.32 182.93,453.09 185.8,442.05 188.66,445.05 191.52,446.82 194.39,449.24 197.25,446.43 200.12,441.9 202.98,437.57 205.84,432.1 208.71,428.69 211.57,423.71 214.44,424.75 217.3,420.48 220.16,421.63 223.03,418.96 225.89,418.39 228.76,418.39 231.62,417.5 234.48,418.86 237.35,417.35 240.21,416.17 243.08,417.53 245.94,415.98 248.8,421.88 251.67,425.16 254.53,419.13 257.4,421.13 260.26,425.77 263.12,419.9 265.99,419.9 268.85,421.94 271.72,425.73 274.58,424.18 277.44,421.14 280.31,417.6 283.17,413.52 286.04,412.56 288.9,411.93 291.76,409.02 294.63,411.14 297.49,410.48 300.36,405.4 303.22,407.23 306.08,407.59 308.95,406.95 311.81,401.23 314.68,398.95 317.54,400.63 320.4,397.7 323.27,394.65 326.13,396.93 329,406.92 331.86,408.28 334.72,407.37 337.59,412.03 340.45,407.29 343.32,410.02 346.18,408.09 349.04,406.55 351.91,405.81 354.77,410.52 357.64,406.65 360.5,403.24 363.36,402.08 366.23,401.21 369.09,398.59 371.96,397.83 374.82,399.36 377.68,408.77 380.55,407.35 383.41,405.49 386.28,418.24 389.14,417.72 392,428.11 394.87,418.53 397.73,416.16 400.6,417.23 403.46,414.54 406.32,412.01 409.19,410.33 412.05,406.16 414.92,403.76 417.78,402.15 420.64,403.97 423.51,408.61 426.37,409.29 429.24,417.65 432.1,428.49 434.96,431 437.83,423.3 440.69,425.37 443.56,420.94 446.42,419.19 449.28,414.68 452.15,410.18 455.01,409.19 457.88,406.99 460.74,403.68 463.6,402.43 466.47,405.91 469.33,404.86 472.2,392.98 475.06,401.96 477.92,407.93 480.79,403.36 483.65,415.35 486.52,416.94 489.38,412.15 492.24,415.72 495.11,414.32 497.97,410.99 500.84,412.2 503.7,410.33 506.56,408.15 509.43,405.9 512.29,406.77 515.16,416.02 518.02,418.09 520.88,417.12 523.75,420.79 526.61,426.58 529.48,426.58 532.34,424.22 535.2,431.89 538.07,429.16 540.93,430.97 543.8,427.45 546.66,431.8 549.52,432.52 552.39,433.18 555.25,436.66 558.12,436.69 560.98,423.59 563.84,429.11 566.71,428.67 569.57,426.3 572.44,422.74 575.3,426.08 578.16,431.42 581.03,433.81 583.89,430.2 586.76,435.33 589.62,432.48 592.48,428.73 595.35,428.89 598.21,432.65 601.08,426.72 603.94,425.77 606.8,427.63 609.67,431.85 612.53,426.08 615.4,428.36 618.26,428.6 621.12,425.08 623.99,427.56 626.85,434.62 629.72,431.76 632.58,426.35 635.44,422.29 638.31,420.33 641.17,424.51 644.04,425.36 646.9,429.23 649.76,430.3 652.63,428.44 655.49,427.32 658.36,428.48 661.22,429.9 664.08,428.15 666.95,430.13 669.81,428.42 672.68,424.75 675.54,422.81 678.4,420.78 681.27,416.69 684.13,414.62 687,413.97 689.86,417.57 692.72,418.43 695.59,411.84 698.45,410.76 701.32,407.34 704.18,408.26 707.04,407.39 709.91,412.52" fill="none" stroke="#7e57c2" stroke-width="1.3" stroke-linejoin="round" />
</g>
<circle cx="16.6" cy="12.75" r="8" fill="#131722"/>
<path d="M16.6 7.2 C15.2 9.3 13.2 11.6 13.2 13.9 A3.4 3.4 0 0 0 20 13.9 C20 11.6 18 9.3 16.6 7.2Z" fill="#fff"/>
<text x="28" y="18" font-size="13" fill="#5d606b" font-weight="normal" text-anchor="start" textLength="66" lengthAdjust="spacingAndGlyphs" >WTICOUSD</text>
<circle cx="115" cy="12.75" r="7" fill="#d6efe9"/>
<circle cx="115" cy="12.75" r="3.3" fill="#089981"/>
<text x="137.1" y="17" font-size="11" fill="#6a6d78" font-weight="normal" text-anchor="start" textLength="7.2" lengthAdjust="spacingAndGlyphs" >O</text>
<text x="145.75" y="17" font-size="11" fill="#8a3a3a" font-weight="normal" text-anchor="start" textLength="33.5" lengthAdjust="spacingAndGlyphs" >91.178</text>
<text x="184.8" y="17" font-size="11" fill="#6a6d78" font-weight="normal" text-anchor="start" textLength="7" lengthAdjust="spacingAndGlyphs" >H</text>
<text x="192.5" y="17" font-size="11" fill="#8a3a3a" font-weight="normal" text-anchor="start" textLength="34.2" lengthAdjust="spacingAndGlyphs" >92.242</text>
<text x="232.9" y="17" font-size="11" fill="#6a6d78" font-weight="normal" text-anchor="start" textLength="5.6" lengthAdjust="spacingAndGlyphs" >L</text>
<text x="238.8" y="17" font-size="11" fill="#8a3a3a" font-weight="normal" text-anchor="start" textLength="33.4" lengthAdjust="spacingAndGlyphs" >88.103</text>
<text x="278.75" y="17" font-size="11" fill="#6a6d78" font-weight="normal" text-anchor="start" textLength="7" lengthAdjust="spacingAndGlyphs" >C</text>
<text x="286" y="17" font-size="11" fill="#8a3a3a" font-weight="normal" text-anchor="start" textLength="32.8" lengthAdjust="spacingAndGlyphs" >88.953</text>
<text x="326.25" y="17" font-size="11" fill="#8a3a3a" font-weight="normal" text-anchor="start" textLength="33" lengthAdjust="spacingAndGlyphs" >−2.225</text>
<text x="363" y="17" font-size="11" fill="#8a3a3a" font-weight="normal" text-anchor="start" textLength="42.5" lengthAdjust="spacingAndGlyphs" >(−2.44%)</text>
<text x="411.25" y="17" font-size="11" fill="#6a6d78" font-weight="normal" text-anchor="start" textLength="13.75" lengthAdjust="spacingAndGlyphs" >Vol</text>
<text x="426.25" y="17" font-size="11" fill="#8a3a3a" font-weight="normal" text-anchor="start" textLength="41.25" lengthAdjust="spacingAndGlyphs" >71.467K</text>
<rect x="8.6" y="27.2" width="46.7" height="20" rx="3" fill="#fff" stroke="#f7525f" stroke-width="1" />
<text x="15" y="41.7" font-size="11" fill="#f23645" font-weight="normal" text-anchor="start" textLength="33" lengthAdjust="spacingAndGlyphs" >88.938</text>
<text x="62.5" y="41.7" font-size="11" fill="#50535e" font-weight="normal" text-anchor="start" textLength="10.4" lengthAdjust="spacingAndGlyphs" >30</text>
<rect x="80.6" y="27.2" width="46.7" height="20" rx="3" fill="#fff" stroke="#2962ff" stroke-width="1" />
<text x="87" y="41.7" font-size="11" fill="#2962ff" font-weight="normal" text-anchor="start" textLength="33" lengthAdjust="spacingAndGlyphs" >88.968</text>
<rect x="6" y="97" width="67" height="14" fill="#fff" fill-opacity="0.85"/>
<text x="9.1" y="65.6" font-size="11" fill="#6a6d78" font-weight="normal" text-anchor="start" textLength="19.8" lengthAdjust="spacingAndGlyphs" >EMA</text>
<text x="36.7" y="65.6" font-size="11" fill="#2962ff" font-weight="normal" text-anchor="start" textLength="33.6" lengthAdjust="spacingAndGlyphs" >81.433</text>
<text x="8.8" y="86.6" font-size="11" fill="#b2b5be" font-weight="normal" text-anchor="start" textLength="14.7" lengthAdjust="spacingAndGlyphs" >Vol</text>
<g fill="none" stroke="#434651" stroke-width="1.2"><ellipse cx="40.1" cy="82.4" rx="6.4" ry="4.6"/><circle cx="40.1" cy="82.4" r="2.1"/><line x1="34.8" y1="87.4" x2="45.3" y2="77.4" stroke="#fff" stroke-width="3"/><line x1="34.8" y1="87.4" x2="45.3" y2="77.4"/></g>
<text x="9.1" y="107.7" font-size="11" fill="#6a6d78" font-weight="normal" text-anchor="start" textLength="19.8" lengthAdjust="spacingAndGlyphs" >EMA</text>
<text x="36.7" y="107.7" font-size="11" fill="#2962ff" font-weight="normal" text-anchor="start" textLength="33.6" lengthAdjust="spacingAndGlyphs" >77.286</text>
<rect x="9.2" y="116.7" width="24.1" height="16.4" rx="3.5" fill="#fff" stroke="#e0e3eb" stroke-width="1" fill-opacity="0.85"/>
<path d="M17.8 126.3 L20.8 123.3 L23.8 126.3" fill="none" stroke="#131722" stroke-width="1.3"/>
<rect x="5" y="286" width="135" height="15" fill="#fff" fill-opacity="0.6"/>
<text x="8" y="297" font-size="11" fill="#6a6d78" font-weight="normal" text-anchor="start" textLength="29" lengthAdjust="spacingAndGlyphs" >MACD</text>
<text x="45" y="297" font-size="11" fill="#8fcfc6" font-weight="normal" text-anchor="start" textLength="27" lengthAdjust="spacingAndGlyphs" >1.556</text>
<text x="78" y="297" font-size="11" fill="#2962ff" font-weight="normal" text-anchor="start" textLength="27" lengthAdjust="spacingAndGlyphs" >3.597</text>
<text x="111" y="297" font-size="11" fill="#ff6d00" font-weight="normal" text-anchor="start" textLength="27" lengthAdjust="spacingAndGlyphs" >2.041</text>
<rect x="5" y="326" width="103" height="15" fill="#fff" fill-opacity="0.6"/>
<text x="8" y="337" font-size="11" fill="#6a6d78" font-weight="normal" text-anchor="start" textLength="28" lengthAdjust="spacingAndGlyphs" >Stoch</text>
<text x="44" y="337" font-size="11" fill="#2962ff" font-weight="normal" text-anchor="start" textLength="26.5" lengthAdjust="spacingAndGlyphs" >74.71</text>
<text x="77" y="337" font-size="11" fill="#ff6d00" font-weight="normal" text-anchor="start" textLength="27" lengthAdjust="spacingAndGlyphs" >83.75</text>
<rect x="5" y="396" width="115" height="15" fill="#fff" fill-opacity="0.6"/>
<text x="8" y="407.4" font-size="11" fill="#6a6d78" font-weight="normal" text-anchor="start" textLength="15" lengthAdjust="spacingAndGlyphs" >RSI</text>
<text x="31" y="407.4" font-size="11" fill="#7e57c2" font-weight="normal" text-anchor="start" textLength="27" lengthAdjust="spacingAndGlyphs" >62.10</text>
<text x="64" y="407.4" font-size="11" fill="#fdd835" font-weight="normal" text-anchor="start" textLength="28" lengthAdjust="spacingAndGlyphs" >58.77</text>
<text x="98" y="407.4" font-size="11" fill="#131722" font-weight="normal" text-anchor="start" textLength="6" lengthAdjust="spacingAndGlyphs" >Ø</text>
<text x="111" y="407.4" font-size="11" fill="#131722" font-weight="normal" text-anchor="start" textLength="6" lengthAdjust="spacingAndGlyphs" >Ø</text>
<g fill="#131722" stroke="#fff" stroke-width="2.5" paint-order="stroke" stroke-linejoin="round"><path d="M11.2 433 H21.8 V445.7 H16.9 V437.7 H11.2Z"/><circle cx="26.2" cy="435.6" r="2.6"/><path d="M30.8 433 H37 L32.4 445.7 H27Z"/></g>
<text x="958.3" y="40.5" font-size="10" fill="#6a6d78" font-weight="normal" text-anchor="start" textLength="32.7" lengthAdjust="spacingAndGlyphs" >120.000</text>
<text x="958.3" y="81.5" font-size="10" fill="#6a6d78" font-weight="normal" text-anchor="start" textLength="32.7" lengthAdjust="spacingAndGlyphs" >100.000</text>
<text x="957.6" y="247.5" font-size="10" fill="#6a6d78" font-weight="normal" text-anchor="start" textLength="28.5" lengthAdjust="spacingAndGlyphs" >20.000</text>
<text x="957.9" y="363.6" font-size="10" fill="#6a6d78" font-weight="normal" text-anchor="start" textLength="24" lengthAdjust="spacingAndGlyphs" >40.00</text>
<text x="957.9" y="388.6" font-size="10" fill="#6a6d78" font-weight="normal" text-anchor="start" textLength="18.5" lengthAdjust="spacingAndGlyphs" >0.00</text>
<text x="957.9" y="397.6" font-size="10" fill="#6a6d78" font-weight="normal" text-anchor="start" textLength="24" lengthAdjust="spacingAndGlyphs" >80.00</text>
<text x="957.9" y="436.6" font-size="10" fill="#6a6d78" font-weight="normal" text-anchor="start" textLength="24" lengthAdjust="spacingAndGlyphs" >40.00</text>
<rect x="955" y="3" width="41" height="20.5" rx="4" fill="#fff" stroke="#e0e3eb" stroke-width="1" />
<text x="959" y="17" font-size="11" fill="#d1d4dc" font-weight="normal" text-anchor="start" textLength="15" lengthAdjust="spacingAndGlyphs" >USD</text>
<path d="M987.5 11.8 L990 14.3 L992.5 11.8" fill="none" stroke="#131722" stroke-width="1.2"/>
<rect x="898.5" y="94.5" width="86.5" height="12.8" rx="2" fill="#dd4f3e" />
<text x="902" y="104.5" font-size="10.5" fill="#fff" font-weight="bold" text-anchor="start" textLength="42" lengthAdjust="spacingAndGlyphs" >WTICOUSD</text>
<text x="955" y="104.5" font-size="10.5" fill="#fde0dc" font-weight="normal" text-anchor="start" textLength="26" lengthAdjust="spacingAndGlyphs" >3d 9h</text>
<path d="M951 110 H988 Q990 110 990 112 V121 Q990 123 988 123 H951Z" fill="#2962ff" />
<text x="958" y="120.1" font-size="10" fill="#fff" font-weight="bold" text-anchor="start" textLength="28.7" lengthAdjust="spacingAndGlyphs" >81.433</text>
<path d="M951 124.3 H988 Q990 124.3 990 126.3 V134 Q990 136 988 136 H951Z" fill="#2962ff" />
<text x="958" y="133.75" font-size="10" fill="#fff" font-weight="bold" text-anchor="start" textLength="28.7" lengthAdjust="spacingAndGlyphs" >77.286</text>
<path d="M951 137 H988 Q990 137 990 139 V148 Q990 150 988 150 H951Z" fill="#131722" />
<text x="958" y="147.1" font-size="10" fill="#fff" font-weight="bold" text-anchor="start" textLength="28.7" lengthAdjust="spacingAndGlyphs" >74.437</text>
<clipPath id="cpl"><rect x="951" y="278.5" width="49" height="40"/></clipPath>
<path d="M951 276 H983.5 Q985.5 276 985.5 278 V285.5 Q985.5 287.5 983.5 287.5 H951Z" fill="#ff6d00" clip-path="url(#cpl)"/>
<text x="958.5" y="285.35" font-size="10" fill="#fff" font-weight="bold" text-anchor="start" textLength="23.5" lengthAdjust="spacingAndGlyphs" clip-path="url(#cpl)">2.041</text>
<path d="M951 289.3 H983.5 Q985.5 289.3 985.5 291.3 V299 Q985.5 301 983.5 301 H951Z" fill="#b2dfdb" />
<text x="958.7" y="298.75" font-size="10" fill="#131722" font-weight="bold" text-anchor="start" textLength="23.3" lengthAdjust="spacingAndGlyphs" >1.556</text>
<path d="M951 319.7 H983.5 Q985.5 319.7 985.5 321.7 V328.6 Q985.5 330.6 983.5 330.6 H951Z" fill="#ff6d00" />
<text x="957.9" y="328.75" font-size="10" fill="#fff" font-weight="bold" text-anchor="start" textLength="24.1" lengthAdjust="spacingAndGlyphs" >83.75</text>
<path d="M951 332.3 H983.5 Q985.5 332.3 985.5 334.3 V342 Q985.5 344 983.5 344 H951Z" fill="#2962ff" />
<text x="957.9" y="341.75" font-size="10" fill="#fff" font-weight="bold" text-anchor="start" textLength="24.1" lengthAdjust="spacingAndGlyphs" >74.71</text>
<path d="M951 406 H983.5 Q985.5 406 985.5 408 V415.7 Q985.5 417.7 983.5 417.7 H951Z" fill="#7e57c2" />
<text x="957.9" y="415.45" font-size="10" fill="#fff" font-weight="bold" text-anchor="start" textLength="24.1" lengthAdjust="spacingAndGlyphs" >62.10</text>
<path d="M951 419 H983.5 Q985.5 419 985.5 421 V429 Q985.5 431 983.5 431 H951Z" fill="#ffeb3b" />
<text x="957.9" y="428.6" font-size="10" fill="#131722" font-weight="bold" text-anchor="start" textLength="24.1" lengthAdjust="spacingAndGlyphs" >58.77</text>
<g fill="none" stroke="#131722" stroke-width="1.1"><path d="M970.2 470.7 L973.3 465.3 L979.5 465.3 L982.6 470.7 L979.5 476.1 L973.3 476.1Z"/><circle cx="976.4" cy="470.7" r="2.2"/></g>
<text x="2.1" y="474" font-size="10" fill="#383b45" font-weight="bold" text-anchor="middle" textLength="21.8" lengthAdjust="spacingAndGlyphs" >2019</text>
<text x="74" y="474" font-size="10" fill="#50535e" font-weight="normal" text-anchor="middle" textLength="12.5" lengthAdjust="spacingAndGlyphs" >Jul</text>
<text x="151.5" y="474" font-size="10" fill="#383b45" font-weight="bold" text-anchor="middle" textLength="21.8" lengthAdjust="spacingAndGlyphs" >2020</text>
<text x="226" y="474" font-size="10" fill="#50535e" font-weight="normal" text-anchor="middle" textLength="12.5" lengthAdjust="spacingAndGlyphs" >Jul</text>
<text x="300" y="474" font-size="10" fill="#383b45" font-weight="bold" text-anchor="middle" textLength="21.8" lengthAdjust="spacingAndGlyphs" >2021</text>
<text x="374.5" y="474" font-size="10" fill="#50535e" font-weight="normal" text-anchor="middle" textLength="12.5" lengthAdjust="spacingAndGlyphs" >Jul</text>
<text x="449" y="474" font-size="10" fill="#383b45" font-weight="bold" text-anchor="middle" textLength="21.8" lengthAdjust="spacingAndGlyphs" >2022</text>
<text x="523.5" y="474" font-size="10" fill="#50535e" font-weight="normal" text-anchor="middle" textLength="12.5" lengthAdjust="spacingAndGlyphs" >Jul</text>
<text x="597.5" y="474" font-size="10" fill="#383b45" font-weight="bold" text-anchor="middle" textLength="21.8" lengthAdjust="spacingAndGlyphs" >2023</text>
<text x="672" y="474" font-size="10" fill="#50535e" font-weight="normal" text-anchor="middle" textLength="12.5" lengthAdjust="spacingAndGlyphs" >Jul</text>
<text x="746.5" y="474" font-size="10" fill="#383b45" font-weight="bold" text-anchor="middle" textLength="21.8" lengthAdjust="spacingAndGlyphs" >2024</text>
<text x="821.5" y="474" font-size="10" fill="#50535e" font-weight="normal" text-anchor="middle" textLength="12.5" lengthAdjust="spacingAndGlyphs" >Jul</text>
<text x="898" y="474" font-size="10" fill="#383b45" font-weight="bold" text-anchor="middle" textLength="21.8" lengthAdjust="spacingAndGlyphs" >2025</text>
<line x1="185.7" y1="86.5" x2="150" y2="130" stroke="#000000" stroke-width="2"/>
<polygon points="144.4,119.9 160.1,132.1 139,141.8" fill="#000000"/>
<rect x="133.7" y="20" width="160.4" height="66" rx="3.5" fill="#fff" fill-opacity="0.97" stroke="#000000" stroke-width="2"/>
<text x="138.3" y="37.9" font-size="18" fill="#000000" font-weight="normal" text-anchor="start" >Prepandemic: core</text>
<text x="138.3" y="58.7" font-size="18" fill="#000000" font-weight="normal" text-anchor="start" >inflation runs cool</text>
<text x="138.3" y="79.5" font-size="18" fill="#000000" font-weight="normal" text-anchor="start" >below 2.0%</text>
<line x1="615" y1="56" x2="597" y2="69" stroke="#000000" stroke-width="2"/>
<polygon points="593.6,59.1 605.1,75.6 582.4,78.5" fill="#000000"/>
<rect x="524.1" y="10.9" width="249.9" height="44.8" rx="3.5" fill="#fff" fill-opacity="0.97" stroke="#000000" stroke-width="2"/>
<text x="528.7" y="28.8" font-size="18" fill="#000000" font-weight="normal" text-anchor="start" >Core PCE peaks above 5.0%,</text>
<text x="528.7" y="49.6" font-size="18" fill="#000000" font-weight="normal" text-anchor="start" >fall 2022</text>
<line x1="797" y1="68.6" x2="772" y2="76.5" stroke="#17bb17" stroke-width="2"/>
<polygon points="771,66.6 776.8,85.7 754.1,82.1" fill="#17bb17"/>
<rect x="797.1" y="5.8" width="184.2" height="66" rx="3.5" fill="#fff" fill-opacity="0.97" stroke="#17bb17" stroke-width="2"/>
<text x="801.7" y="23.7" font-size="18" fill="#17bb17" font-weight="normal" text-anchor="start" >WTI market eyes</text>
<text x="801.7" y="44.5" font-size="18" fill="#17bb17" font-weight="normal" text-anchor="start" >$100 per barrel after</text>
<text x="801.7" y="65.3" font-size="18" fill="#17bb17" font-weight="normal" text-anchor="start" >forming Golden Cross</text>
<line x1="802.5" y1="143.6" x2="750" y2="114" stroke="#000000" stroke-width="2"/>
<polygon points="734.3,105 758,105.8 747.2,124.4" fill="#000000"/>
<rect x="729.1" y="143.8" width="268.6" height="66" rx="3.5" fill="#fff" fill-opacity="0.97" stroke="#000000" stroke-width="2"/>
<text x="733.7" y="161.7" font-size="18" fill="#000000" font-weight="normal" text-anchor="start" >Core PCE, the lagging indicator,</text>
<text x="733.7" y="182.5" font-size="18" fill="#000000" font-weight="normal" text-anchor="start" >falls but headline accelerates...</text>
<text x="733.7" y="203.3" font-size="18" fill="#000000" font-weight="normal" text-anchor="start" >expect the core reading to follow</text>
<line x1="650.1" y1="218.5" x2="650.1" y2="190" stroke="#000000" stroke-width="2"/>
<polygon points="650.1,171.3 639.4,192.2 660.9,192.2" fill="#000000"/>
<rect x="559.7" y="218.5" width="181" height="66" rx="3.5" fill="#fff" fill-opacity="0.97" stroke="#000000" stroke-width="2"/>
<text x="564.3" y="236.4" font-size="18" fill="#000000" font-weight="normal" text-anchor="start" >PCE cools to low</text>
<text x="564.3" y="257.2" font-size="18" fill="#000000" font-weight="normal" text-anchor="start" >4% range: still above</text>
<text x="564.3" y="278" font-size="18" fill="#000000" font-weight="normal" text-anchor="start" >Oct 2021 pace</text>
<line x1="440.8" y1="203" x2="420" y2="180" stroke="#000000" stroke-width="2"/>
<polygon points="408.8,167.2 430.5,176 415,189.4" fill="#000000"/>
<rect x="386.5" y="203" width="151.1" height="44.8" rx="3.5" fill="#fff" fill-opacity="0.97" stroke="#000000" stroke-width="2"/>
<text x="391.1" y="220.9" font-size="18" fill="#000000" font-weight="normal" text-anchor="start" >Core PCE hits</text>
<text x="391.1" y="241.7" font-size="18" fill="#000000" font-weight="normal" text-anchor="start" >3.5% range 10/21</text>
<line x1="295.1" y1="252" x2="280" y2="233" stroke="#000000" stroke-width="2"/>
<polygon points="269.5,220.3 291,230.1 274.5,242.9" fill="#000000"/>
<rect x="245.7" y="252" width="136.6" height="44.8" rx="3.5" fill="#fff" fill-opacity="0.97" stroke="#000000" stroke-width="2"/>
<text x="250.3" y="269.9" font-size="18" fill="#000000" font-weight="normal" text-anchor="start" >Core PCE picks</text>
<text x="250.3" y="290.7" font-size="18" fill="#000000" font-weight="normal" text-anchor="start" >up to 1.5%</text>
<line x1="104" y1="254.6" x2="155" y2="252.7" stroke="#000000" stroke-width="2"/>
<polygon points="153.2,242.9 173.9,252.2 153.2,262.6" fill="#000000"/>
<rect x="-20" y="233.9" width="123.8" height="44.8" rx="3.5" fill="#fff" fill-opacity="0.97" stroke="#000000" stroke-width="2"/>
<text x="98.1" y="251.8" font-size="18" fill="#000000" font-weight="normal" text-anchor="end" >PCE Core falls</text>
<text x="-0.8" y="272.6" font-size="18" fill="#000000" font-weight="normal" text-anchor="start" >0.5%</text>
</svg></body></html>
